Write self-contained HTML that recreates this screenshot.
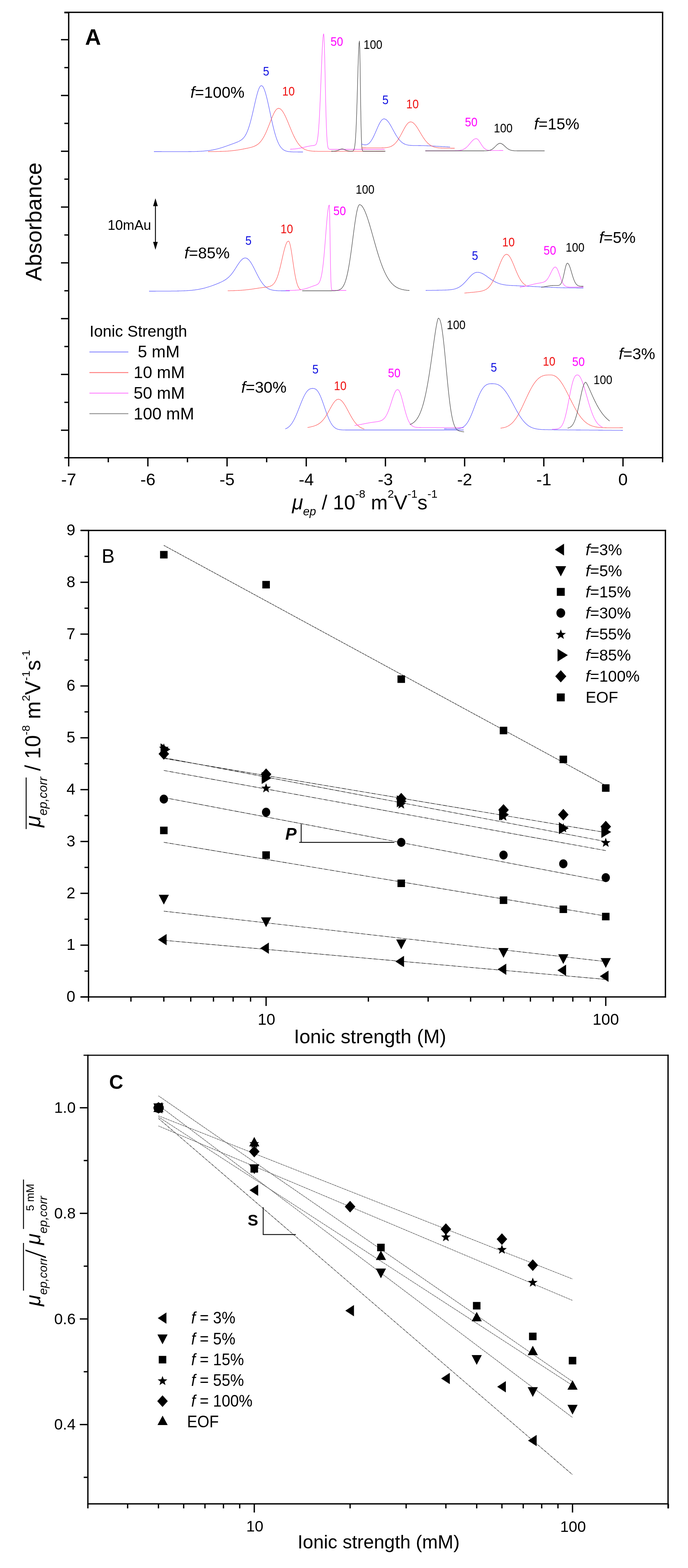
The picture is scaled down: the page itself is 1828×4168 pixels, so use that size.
<!DOCTYPE html>
<html><head><meta charset="utf-8"><title>Figure</title>
<style>
html,body{margin:0;padding:0;background:#fff;}
svg{display:block;}
text{font-family:"Liberation Sans", Arial, sans-serif;}
</style></head>
<body>
<svg width="1828" height="4168" viewBox="0 0 1828 4168" font-family='"Liberation Sans", Arial, sans-serif'>
<rect width="1828" height="4168" fill="#fff"/>
<g id="panelA">
<line x1="182.5" y1="32.7" x2="1762.2" y2="32.7" stroke="#000" stroke-width="3.5" />
<line x1="171" y1="32.7" x2="182.5" y2="32.7" stroke="#000" stroke-width="3.5" />
<line x1="182.5" y1="31" x2="182.5" y2="1218.5" stroke="#000" stroke-width="3.5" />
<line x1="1760.5" y1="31" x2="1760.5" y2="1218.5" stroke="#000" stroke-width="3.5" />
<line x1="171" y1="1216.8" x2="1762.2" y2="1216.8" stroke="#000" stroke-width="3.5" />
<line x1="162" y1="105.5" x2="182.5" y2="105.5" stroke="#000" stroke-width="3.5" />
<line x1="171" y1="179.7" x2="182.5" y2="179.7" stroke="#000" stroke-width="3.5" />
<line x1="162" y1="253.8" x2="182.5" y2="253.8" stroke="#000" stroke-width="3.5" />
<line x1="171" y1="328" x2="182.5" y2="328" stroke="#000" stroke-width="3.5" />
<line x1="162" y1="402.1" x2="182.5" y2="402.1" stroke="#000" stroke-width="3.5" />
<line x1="171" y1="476.2" x2="182.5" y2="476.2" stroke="#000" stroke-width="3.5" />
<line x1="162" y1="550.4" x2="182.5" y2="550.4" stroke="#000" stroke-width="3.5" />
<line x1="171" y1="624.6" x2="182.5" y2="624.6" stroke="#000" stroke-width="3.5" />
<line x1="162" y1="698.7" x2="182.5" y2="698.7" stroke="#000" stroke-width="3.5" />
<line x1="171" y1="772.9" x2="182.5" y2="772.9" stroke="#000" stroke-width="3.5" />
<line x1="162" y1="847" x2="182.5" y2="847" stroke="#000" stroke-width="3.5" />
<line x1="171" y1="921.1" x2="182.5" y2="921.1" stroke="#000" stroke-width="3.5" />
<line x1="162" y1="995.3" x2="182.5" y2="995.3" stroke="#000" stroke-width="3.5" />
<line x1="171" y1="1069.5" x2="182.5" y2="1069.5" stroke="#000" stroke-width="3.5" />
<line x1="162" y1="1143.6" x2="182.5" y2="1143.6" stroke="#000" stroke-width="3.5" />
<line x1="171" y1="33.7" x2="182.5" y2="33.7" stroke="#000" stroke-width="3.5" />
<line x1="182.5" y1="1216.8" x2="182.5" y2="1239.8" stroke="#000" stroke-width="3.5" />
<text x="182.5" y="1290" font-size="45" text-anchor="middle" >-7</text>
<line x1="287.7" y1="1216.8" x2="287.7" y2="1228.8" stroke="#000" stroke-width="3.5" />
<line x1="392.9" y1="1216.8" x2="392.9" y2="1239.8" stroke="#000" stroke-width="3.5" />
<text x="392.9" y="1290" font-size="45" text-anchor="middle" >-6</text>
<line x1="498.1" y1="1216.8" x2="498.1" y2="1228.8" stroke="#000" stroke-width="3.5" />
<line x1="603.3" y1="1216.8" x2="603.3" y2="1239.8" stroke="#000" stroke-width="3.5" />
<text x="603.3" y="1290" font-size="45" text-anchor="middle" >-5</text>
<line x1="708.5" y1="1216.8" x2="708.5" y2="1228.8" stroke="#000" stroke-width="3.5" />
<line x1="813.7" y1="1216.8" x2="813.7" y2="1239.8" stroke="#000" stroke-width="3.5" />
<text x="813.7" y="1290" font-size="45" text-anchor="middle" >-4</text>
<line x1="918.9" y1="1216.8" x2="918.9" y2="1228.8" stroke="#000" stroke-width="3.5" />
<line x1="1024.1" y1="1216.8" x2="1024.1" y2="1239.8" stroke="#000" stroke-width="3.5" />
<text x="1024.1" y="1290" font-size="45" text-anchor="middle" >-3</text>
<line x1="1129.3" y1="1216.8" x2="1129.3" y2="1228.8" stroke="#000" stroke-width="3.5" />
<line x1="1234.5" y1="1216.8" x2="1234.5" y2="1239.8" stroke="#000" stroke-width="3.5" />
<text x="1234.5" y="1290" font-size="45" text-anchor="middle" >-2</text>
<line x1="1339.7" y1="1216.8" x2="1339.7" y2="1228.8" stroke="#000" stroke-width="3.5" />
<line x1="1444.9" y1="1216.8" x2="1444.9" y2="1239.8" stroke="#000" stroke-width="3.5" />
<text x="1444.9" y="1290" font-size="45" text-anchor="middle" >-1</text>
<line x1="1550.1" y1="1216.8" x2="1550.1" y2="1228.8" stroke="#000" stroke-width="3.5" />
<line x1="1655.3" y1="1216.8" x2="1655.3" y2="1239.8" stroke="#000" stroke-width="3.5" />
<text x="1655.3" y="1290" font-size="45" text-anchor="middle" >0</text>
<line x1="1760.5" y1="1216.8" x2="1760.5" y2="1228.8" stroke="#000" stroke-width="3.5" />
</g>
<text transform="translate(110,589.5) rotate(-90)" font-size="59" text-anchor="middle">Absorbance</text>
<text x="226" y="118.5" font-size="58.5" font-weight="bold" >A</text>
<text x="776" y="1353.7" font-size="53.5"><tspan font-style="italic">μ</tspan><tspan font-size="31" font-style="italic" dy="16">ep</tspan><tspan dy="-16"> / 10</tspan><tspan font-size="30" dy="-30.5">-8</tspan><tspan dy="30.5"> m</tspan><tspan font-size="30" dy="-30.5">2</tspan><tspan dy="30.5">V</tspan><tspan font-size="30" dy="-30.5">-1</tspan><tspan dy="30.5">s</tspan><tspan font-size="30" dy="-30.5">-1</tspan></text>
<path d="M409,403 L410,403 L411,403 L412,403 L413,403 L414,403 L415,403 L416,403 L417,403 L418,403 L419,403 L420,403 L421,403 L422,403 L423,403 L424,403 L425,403 L426,403 L427,403 L428,403 L429,403 L430,403.1 L431,403.1 L432,403.1 L433,403.1 L434,403.1 L435,403.1 L436,403.1 L437,403.1 L438,403.1 L439,403.1 L440,403.1 L441,403.1 L442,403.1 L443,403.1 L444,403.1 L445,403.1 L446,403.1 L447,403.1 L448,403.1 L449,403.1 L450,403.1 L451,403.1 L452,403.1 L453,403.1 L454,403.1 L455,403.1 L456,403.1 L457,403.1 L458,403.1 L459,403.1 L460,403.1 L461,403.1 L462,403.1 L463,403.1 L464,403.1 L465,403.1 L466,403.1 L467,403.1 L468,403.1 L469,403.1 L470,403.1 L471,403.1 L472,403.1 L473,403.1 L474,403.1 L475,403.1 L476,403.1 L477,403.1 L478,403.1 L479,403.1 L480,403.1 L481,403.1 L482,403.1 L483,403.1 L484,403.1 L485,403.1 L486,403.1 L487,403.1 L488,403.1 L489,403.1 L490,403.1 L491,403.1 L492,403.1 L493,403.1 L494,403.1 L495,403.1 L496,403.1 L497,403.1 L498,403.1 L499,403.1 L500,403.1 L501,403 L502,403 L503,403 L504,403 L505,403 L506,403 L507,403 L508,403 L509,402.9 L510,402.9 L511,402.9 L512,402.9 L513,402.9 L514,402.8 L515,402.8 L516,402.8 L517,402.8 L518,402.7 L519,402.7 L520,402.7 L521,402.7 L522,402.6 L523,402.6 L524,402.5 L525,402.5 L526,402.5 L527,402.4 L528,402.4 L529,402.3 L530,402.3 L531,402.2 L532,402.2 L533,402.1 L534,402.1 L535,402 L536,401.9 L537,401.9 L538,401.8 L539,401.7 L540,401.6 L541,401.6 L542,401.5 L543,401.4 L544,401.3 L545,401.2 L546,401.1 L547,401 L548,400.9 L549,400.8 L550,400.7 L551,400.6 L552,400.5 L553,400.3 L554,400.2 L555,400.1 L556,399.9 L557,399.8 L558,399.6 L559,399.5 L560,399.3 L561,399.2 L562,399 L563,398.8 L564,398.6 L565,398.5 L566,398.3 L567,398.1 L568,397.9 L569,397.7 L570,397.5 L571,397.3 L572,397 L573,396.8 L574,396.6 L575,396.3 L576,396.1 L577,395.9 L578,395.6 L579,395.4 L580,395.1 L581,394.8 L582,394.6 L583,394.3 L584,394 L585,393.7 L586,393.4 L587,393.1 L588,392.8 L589,392.5 L590,392.2 L591,391.9 L592,391.6 L593,391.2 L594,390.9 L595,390.6 L596,390.2 L597,389.9 L598,389.6 L599,389.2 L600,388.9 L601,388.5 L602,388.2 L603,387.8 L604,387.5 L605,387.1 L606,386.7 L607,386.4 L608,386 L609,385.7 L610,385.3 L611,384.9 L612,384.6 L613,384.2 L614,383.8 L615,383.5 L616,383.1 L617,382.7 L618,382.4 L619,382 L620,381.6 L621,381.3 L622,380.9 L623,380.5 L624,380.1 L625,379.8 L626,379.4 L627,379 L628,378.6 L629,378.2 L630,377.8 L631,377.4 L632,377 L633,376.5 L634,376 L635,375.6 L636,375 L637,374.5 L638,373.9 L639,373.3 L640,372.7 L641,372 L642,371.3 L643,370.5 L644,369.6 L645,368.7 L646,367.7 L647,366.6 L648,365.4 L649,364.1 L650,362.8 L651,361.3 L652,359.7 L653,357.9 L654,356.1 L655,354.1 L656,351.9 L657,349.6 L658,347.2 L659,344.5 L660,341.7 L661,338.8 L662,335.7 L663,332.5 L664,329.1 L665,325.6 L666,321.9 L667,318.1 L668,314.2 L669,310.2 L670,306.1 L671,301.8 L672,297.5 L673,293.2 L674,288.8 L675,284.4 L676,279.9 L677,275.5 L678,271.2 L679,266.9 L680,262.7 L681,258.6 L682,254.7 L683,250.9 L684,247.3 L685,244 L686,240.9 L687,238.1 L688,235.6 L689,233.4 L690,231.5 L691,230 L692,228.8 L693,228 L694,227.6 L695,227.6 L696,228 L697,228.7 L698,229.8 L699,231.2 L700,232.9 L701,234.9 L702,237.2 L703,239.8 L704,242.7 L705,245.8 L706,249.2 L707,252.8 L708,256.6 L709,260.5 L710,264.7 L711,269 L712,273.4 L713,277.9 L714,282.5 L715,287.2 L716,291.9 L717,296.7 L718,301.4 L719,306.2 L720,310.9 L721,315.5 L722,320.1 L723,324.6 L724,329 L725,333.3 L726,337.5 L727,341.6 L728,345.6 L729,349.4 L730,353 L731,356.5 L732,359.9 L733,363.1 L734,366.1 L735,369 L736,371.8 L737,374.3 L738,376.8 L739,379 L740,381.2 L741,383.2 L742,385 L743,386.7 L744,388.3 L745,389.8 L746,391.2 L747,392.4 L748,393.6 L749,394.6 L750,395.6 L751,396.5 L752,397.3 L753,398 L754,398.7 L755,399.3 L756,399.8 L757,400.3 L758,400.7 L759,401.1 L760,401.4 L761,401.7 L762,402 L763,402.3 L764,402.5 L765,402.7 L766,402.8 L767,403 L768,403.1 L769,403.2 L770,403.3 L771,403.4 L772,403.5 L773,403.5 L774,403.6 L775,403.6 L776,403.7 L777,403.7 L778,403.8 L779,403.8 L780,403.8 L781,403.8 L782,403.9 L783,403.9 L784,403.9 L785,403.9 L786,403.9 L787,403.9 L788,403.9 L789,403.9 L790,403.9 L791,403.9 L792,404 L793,404 L794,404 L795,404 L796,404 L797,404 L798,404 L799,404 L800,404 L801,404 L802,404 L803,404 L804,404 L805,404" fill="none" stroke="#5a5aff" stroke-width="1.3" stroke-linejoin="round"/>
<path d="M553,403 L554,403 L555,403 L556,402.9 L557,402.9 L558,402.9 L559,402.9 L560,402.9 L561,402.9 L562,402.9 L563,402.9 L564,402.9 L565,402.9 L566,402.9 L567,402.9 L568,402.9 L569,402.8 L570,402.8 L571,402.8 L572,402.8 L573,402.8 L574,402.8 L575,402.8 L576,402.7 L577,402.7 L578,402.7 L579,402.7 L580,402.7 L581,402.6 L582,402.6 L583,402.6 L584,402.6 L585,402.5 L586,402.5 L587,402.5 L588,402.5 L589,402.4 L590,402.4 L591,402.4 L592,402.3 L593,402.3 L594,402.2 L595,402.2 L596,402.1 L597,402.1 L598,402.1 L599,402 L600,401.9 L601,401.9 L602,401.8 L603,401.8 L604,401.7 L605,401.6 L606,401.6 L607,401.5 L608,401.4 L609,401.3 L610,401.3 L611,401.2 L612,401.1 L613,401 L614,400.9 L615,400.8 L616,400.7 L617,400.6 L618,400.5 L619,400.4 L620,400.3 L621,400.1 L622,400 L623,399.9 L624,399.8 L625,399.6 L626,399.5 L627,399.4 L628,399.2 L629,399.1 L630,398.9 L631,398.8 L632,398.6 L633,398.5 L634,398.3 L635,398.2 L636,398 L637,397.8 L638,397.7 L639,397.5 L640,397.3 L641,397.1 L642,396.9 L643,396.8 L644,396.6 L645,396.4 L646,396.2 L647,396 L648,395.8 L649,395.6 L650,395.4 L651,395.2 L652,395 L653,394.8 L654,394.6 L655,394.4 L656,394.2 L657,394 L658,393.8 L659,393.6 L660,393.3 L661,393.1 L662,392.9 L663,392.6 L664,392.4 L665,392.1 L666,391.9 L667,391.6 L668,391.3 L669,391.1 L670,390.8 L671,390.4 L672,390.1 L673,389.8 L674,389.4 L675,389 L676,388.6 L677,388.2 L678,387.7 L679,387.2 L680,386.7 L681,386.1 L682,385.5 L683,384.9 L684,384.2 L685,383.5 L686,382.7 L687,381.9 L688,381 L689,380 L690,379 L691,378 L692,376.8 L693,375.6 L694,374.4 L695,373.1 L696,371.7 L697,370.2 L698,368.7 L699,367 L700,365.4 L701,363.6 L702,361.8 L703,359.8 L704,357.9 L705,355.8 L706,353.7 L707,351.5 L708,349.2 L709,346.9 L710,344.5 L711,342.1 L712,339.6 L713,337.1 L714,334.6 L715,332 L716,329.4 L717,326.9 L718,324.3 L719,321.7 L720,319.1 L721,316.6 L722,314.1 L723,311.7 L724,309.4 L725,307.1 L726,304.9 L727,302.7 L728,300.7 L729,298.8 L730,297.1 L731,295.4 L732,293.9 L733,292.6 L734,291.4 L735,290.4 L736,289.5 L737,288.9 L738,288.4 L739,288.1 L740,287.9 L741,288 L742,288.2 L743,288.6 L744,289.1 L745,289.7 L746,290.5 L747,291.4 L748,292.4 L749,293.5 L750,294.8 L751,296.2 L752,297.7 L753,299.3 L754,301 L755,302.8 L756,304.7 L757,306.6 L758,308.7 L759,310.8 L760,313 L761,315.2 L762,317.5 L763,319.8 L764,322.2 L765,324.6 L766,327 L767,329.5 L768,331.9 L769,334.4 L770,336.8 L771,339.3 L772,341.7 L773,344.1 L774,346.5 L775,348.8 L776,351.2 L777,353.4 L778,355.7 L779,357.9 L780,360 L781,362.1 L782,364.1 L783,366.1 L784,368 L785,369.9 L786,371.7 L787,373.4 L788,375.1 L789,376.7 L790,378.3 L791,379.8 L792,381.2 L793,382.5 L794,383.8 L795,385.1 L796,386.2 L797,387.3 L798,388.4 L799,389.4 L800,390.3 L801,391.2 L802,392 L803,392.8 L804,393.6 L805,394.3 L806,394.9 L807,395.5 L808,396.1 L809,396.6 L810,397.1 L811,397.5 L812,398 L813,398.3 L814,398.7 L815,399 L816,399.3 L817,399.6 L818,399.9 L819,400.1 L820,400.3 L821,400.5 L822,400.7 L823,400.9 L824,401 L825,401.2 L826,401.3 L827,401.4 L828,401.5 L829,401.6 L830,401.7 L831,401.8 L832,401.8 L833,401.9 L834,402 L835,402 L836,402 L837,402.1 L838,402.1 L839,402.1 L840,402.2 L841,402.2 L842,402.2 L843,402.2 L844,402.3 L845,402.3 L846,402.3 L847,402.3 L848,402.3 L849,402.3 L850,402.3 L851,402.3 L852,402.3 L853,402.3 L854,402.3 L855,402.3 L856,402.3 L857,402.3 L858,402.3 L859,402.3 L860,402.3 L861,402.3 L862,402.3 L863,402.3 L864,402.3 L865,402.3 L866,402.3 L867,402.3 L868,402.3 L869,402.3 L870,402.3 L871,402.3 L872,402.3 L873,402.3 L874,402.3 L875,402.3 L876,402.3 L877,402.3 L878,402.3 L879,402.3 L880,402.3 L881,402.3 L882,402.3 L883,402.3 L884,402.3 L885,402.3 L886,402.3 L887,402.3 L888,402.3 L889,402.3 L890,402.3 L891,402.3 L892,402.3 L893,402.3 L894,402.3 L895,402.3 L896,402.3 L897,402.3 L898,402.3 L899,402.3 L900,402.3 L901,402.3 L902,402.3 L903,402.3 L904,402.3 L905,402.2 L906,402.2 L907,402.2 L908,402.2 L909,402.2 L910,402.2 L911,402.2 L912,402.2 L913,402.2 L914,402.2 L915,402.2 L916,402.2 L917,402.2 L918,402.2 L919,402.2 L920,402.2 L921,402.2 L922,402.2 L923,402.2 L924,402.2 L925,402.2 L926,402.2 L927,402.2 L928,402.2 L929,402.2 L930,402.2 L931,402.2 L932,402.2 L933,402.2 L934,402.2 L935,402.2 L936,402.2 L937,402.2 L938,402.2 L939,402.2 L940,402.2 L941,402.2 L942,402.2 L943,402.2 L944,402.2 L945,402.2 L946,402.2 L947,402.2 L948,402.2 L949,402.2 L950,402.2 L951,402.2 L952,402.1 L953,402.1 L954,402.1 L955,402.1 L956,402.1 L957,402.1 L958,402.1 L959,402.1 L960,402.1 L961,402.1 L962,402.1 L963,402.1 L964,402.1 L965,402.1 L966,402.1 L967,402.1 L968,402.1 L969,402.1 L970,402.1 L971,402.1 L972,402.1 L973,402.1 L974,402.1 L975,402.1 L976,402.1 L977,402.1 L978,402.1 L979,402.1 L980,402.1 L981,402.1 L982,402.1 L983,402.1 L984,402.1 L985,402.1 L986,402.1 L987,402.1 L988,402.1 L989,402.1 L990,402.1 L991,402.1 L992,402.1 L993,402.1 L994,402.1 L995,402.1 L996,402.1 L997,402.1 L998,402.1 L999,402 L1000,402 L1001,402 L1002,402 L1003,402 L1004,402 L1005,402 L1006,402 L1007,402 L1008,402 L1009,402 L1010,402 L1011,402 L1012,402 L1013,402 L1014,402 L1015,402 L1016,402 L1017,402 L1018,402 L1019,402 L1020,402 L1021,402 L1022,402" fill="none" stroke="#ff5a5a" stroke-width="1.3" stroke-linejoin="round"/>
<path d="M771,396.6 L772,396.6 L773,396.5 L774,396.5 L775,396.4 L776,396.4 L777,396.3 L778,396.3 L779,396.2 L780,396.1 L781,396 L782,395.9 L783,395.9 L784,395.8 L785,395.6 L786,395.5 L787,395.4 L788,395.3 L789,395.2 L790,395 L791,394.9 L792,394.7 L793,394.6 L794,394.4 L795,394.2 L796,394 L797,393.9 L798,393.7 L799,393.5 L800,393.2 L801,393 L802,392.8 L803,392.6 L804,392.4 L805,392.1 L806,391.9 L807,391.7 L808,391.4 L809,391.2 L810,390.9 L811,390.7 L812,390.5 L813,390.2 L814,390 L815,389.7 L816,389.5 L817,389.3 L818,389.1 L819,388.9 L820,388.6 L821,388.5 L822,388.3 L823,388.1 L824,387.9 L825,387.8 L826,387.6 L827,387.5 L828,387.4 L829,387.3 L830,387.2 L831,387.1 L832,387 L833,386.9 L834,386.7 L835,386.5 L836,386.2 L837,385.8 L838,385.2 L839,384.4 L840,383 L841,380.9 L842,377.9 L843,373.7 L844,367.8 L845,360.1 L846,350.1 L847,337.5 L848,322.2 L849,304.1 L850,283.3 L851,260.1 L852,235.1 L853,209.1 L854,183 L855,158.1 L856,135.5 L857,116.4 L858,102 L859,93 L860,90 L861,99.5 L862,126.2 L863,165.4 L864,210.9 L865,256.5 L866,297.4 L867,330.6 L868,355.5 L869,372.6 L870,383.5 L871,390 L872,393.6 L873,395.4 L874,396.3 L875,396.7 L876,396.9 L877,397 L878,397 L879,397 L880,397 L881,397 L882,397 L883,397 L884,397 L885,397 L886,397 L887,397 L888,397 L889,397 L890,397 L891,397 L892,397 L893,397 L894,397 L895,397 L896,397 L897,397 L898,397 L899,397 L900,397 L901,397 L902,397 L903,397 L904,397 L905,397 L906,397 L907,397 L908,397 L909,397 L910,397 L911,397 L912,397 L913,397 L914,397 L915,397 L916,397 L917,397 L918,397 L919,397 L920,397 L921,397 L922,397 L923,397 L924,397 L925,397 L926,397 L927,397 L928,397 L929,397 L930,397 L931,397 L932,397 L933,397 L934,397 L935,397 L936,397 L937,397 L938,397 L939,397 L940,397 L941,397 L942,397 L943,397 L944,397 L945,397 L946,397 L947,397 L948,397 L949,397 L950,397 L951,397 L952,397 L953,397 L954,397 L955,397 L956,397 L957,397 L958,397 L959,397 L960,397 L961,397 L962,397 L963,397 L964,397 L965,397 L966,397 L967,397 L968,397 L969,397 L970,397 L971,397 L972,397 L973,397 L974,397 L975,397 L976,397 L977,397 L978,397 L979,397 L980,397 L981,397 L982,397 L983,397 L984,397 L985,397 L986,397 L987,397 L988,397 L989,397 L990,397 L991,397 L992,397 L993,397 L994,397 L995,397 L996,397 L997,397 L998,397 L999,397 L1000,397 L1001,397 L1002,397 L1003,397 L1004,397 L1005,397 L1006,397 L1007,397 L1008,397 L1009,397 L1010,397 L1011,397 L1012,397 L1013,397 L1014,397 L1015,397 L1016,397 L1017,397 L1018,397 L1019,397 L1020,397 L1021,397 L1022,397" fill="none" stroke="#ff50ff" stroke-width="1.3" stroke-linejoin="round"/>
<path d="M880,402 L881,402 L882,402 L883,402 L884,402 L885,401.9 L886,401.9 L887,401.9 L888,401.8 L889,401.7 L890,401.6 L891,401.5 L892,401.4 L893,401.2 L894,401 L895,400.7 L896,400.4 L897,400.1 L898,399.7 L899,399.3 L900,398.8 L901,398.4 L902,397.9 L903,397.5 L904,397.1 L905,396.7 L906,396.4 L907,396.2 L908,396 L909,396 L910,396 L911,396.2 L912,396.4 L913,396.7 L914,397.1 L915,397.5 L916,397.9 L917,398.4 L918,398.8 L919,399.3 L920,399.7 L921,400.1 L922,400.4 L923,400.7 L924,401 L925,401.2 L926,401.4 L927,401.5 L928,401.6 L929,401.7 L930,401.8 L931,401.9 L932,401.9 L933,401.9 L934,401.9 L935,401.9 L936,401.8 L937,401.5 L938,401.1 L939,400.2 L940,398.7 L941,396.2 L942,392 L943,385.6 L944,375.9 L945,362.3 L946,344 L947,320.5 L948,292 L949,259.4 L950,224.3 L951,189.2 L952,157.3 L953,131.5 L954,114.8 L955,109 L956,131.5 L957,189.2 L958,259.4 L959,320.5 L960,362.3 L961,385.6 L962,396.2 L963,400.2 L964,401.6 L965,401.9 L966,402 L967,402 L968,402 L969,402 L970,402 L971,402 L972,402 L973,402 L974,402 L975,402 L976,402 L977,402 L978,402 L979,402 L980,402 L981,402 L982,402 L983,402 L984,402 L985,402 L986,402 L987,402 L988,402 L989,402 L990,402 L991,402 L992,402 L993,402 L994,402 L995,402 L996,402 L997,402 L998,402 L999,402 L1000,402 L1001,402 L1002,402 L1003,402 L1004,402 L1005,402 L1006,402 L1007,402 L1008,402 L1009,402 L1010,402 L1011,402 L1012,402 L1013,402 L1014,402 L1015,402 L1016,402 L1017,402 L1018,402 L1019,402 L1020,402 L1021,402 L1022,402 L1023,402 L1024,402" fill="none" stroke="#444" stroke-width="1.3" stroke-linejoin="round"/>
<path d="M960,382.9 L961,383.1 L962,383.4 L963,383.6 L964,383.9 L965,384.1 L966,384.4 L967,384.6 L968,384.8 L969,384.9 L970,385 L971,385 L972,384.9 L973,384.8 L974,384.6 L975,384.3 L976,383.9 L977,383.4 L978,382.9 L979,382.2 L980,381.4 L981,380.5 L982,379.5 L983,378.4 L984,377.2 L985,375.9 L986,374.5 L987,373 L988,371.4 L989,369.7 L990,367.9 L991,366 L992,364.1 L993,362.1 L994,360 L995,357.8 L996,355.6 L997,353.4 L998,351.1 L999,348.8 L1000,346.5 L1001,344.2 L1002,341.8 L1003,339.6 L1004,337.3 L1005,335.1 L1006,333 L1007,330.9 L1008,328.9 L1009,327 L1010,325.3 L1011,323.6 L1012,322.1 L1013,320.8 L1014,319.6 L1015,318.5 L1016,317.7 L1017,317 L1018,316.5 L1019,316.1 L1020,316 L1021,316 L1022,316.2 L1023,316.5 L1024,316.9 L1025,317.4 L1026,318.1 L1027,318.8 L1028,319.7 L1029,320.7 L1030,321.8 L1031,323 L1032,324.3 L1033,325.7 L1034,327.2 L1035,328.7 L1036,330.3 L1037,331.9 L1038,333.6 L1039,335.4 L1040,337.2 L1041,339 L1042,340.8 L1043,342.7 L1044,344.5 L1045,346.4 L1046,348.2 L1047,350 L1048,351.8 L1049,353.6 L1050,355.4 L1051,357.1 L1052,358.8 L1053,360.4 L1054,362 L1055,363.5 L1056,365 L1057,366.5 L1058,367.9 L1059,369.2 L1060,370.5 L1061,371.7 L1062,372.8 L1063,373.9 L1064,374.9 L1065,375.9 L1066,376.8 L1067,377.7 L1068,378.5 L1069,379.3 L1070,380 L1071,380.6 L1072,381.3 L1073,381.8 L1074,382.3 L1075,382.8 L1076,383.3 L1077,383.7 L1078,384 L1079,384.4 L1080,384.7 L1081,384.9 L1082,385.2 L1083,385.4 L1084,385.6 L1085,385.8 L1086,385.9 L1087,386.1 L1088,386.2 L1089,386.3 L1090,386.4 L1091,386.5 L1092,386.5 L1093,386.6 L1094,386.6 L1095,386.7 L1096,386.7 L1097,386.8 L1098,386.8 L1099,386.8 L1100,386.8 L1101,386.8 L1102,386.9 L1103,386.9 L1104,386.9 L1105,386.9 L1106,386.9 L1107,386.9 L1108,386.9 L1109,386.9 L1110,386.9 L1111,386.9 L1112,387 L1113,387 L1114,387 L1115,387 L1116,387 L1117,387 L1118,387 L1119,387.1 L1120,387.1 L1121,387.1 L1122,387.1 L1123,387.1 L1124,387.2 L1125,387.2 L1126,387.2 L1127,387.2 L1128,387.3 L1129,387.3 L1130,387.3 L1131,387.4 L1132,387.4 L1133,387.4 L1134,387.5 L1135,387.5 L1136,387.5 L1137,387.6 L1138,387.6 L1139,387.7 L1140,387.7 L1141,387.7 L1142,387.8 L1143,387.8 L1144,387.9 L1145,387.9 L1146,388 L1147,388 L1148,388.1 L1149,388.1 L1150,388.2 L1151,388.2 L1152,388.3 L1153,388.4 L1154,388.4 L1155,388.5 L1156,388.5 L1157,388.6 L1158,388.6 L1159,388.7 L1160,388.8 L1161,388.8 L1162,388.9 L1163,388.9 L1164,389 L1165,389.1 L1166,389.1 L1167,389.2 L1168,389.2 L1169,389.3 L1170,389.4 L1171,389.4 L1172,389.5 L1173,389.5 L1174,389.6 L1175,389.7 L1176,389.7 L1177,389.8 L1178,389.8 L1179,389.9 L1180,390 L1181,390 L1182,390.1 L1183,390.1 L1184,390.2 L1185,390.3 L1186,390.3 L1187,390.4 L1188,390.4 L1189,390.5 L1190,390.5 L1191,390.6 L1192,390.6 L1193,390.7 L1194,390.7 L1195,390.8 L1196,390.9" fill="none" stroke="#5a5aff" stroke-width="1.3" stroke-linejoin="round"/>
<path d="M960,393 L961,393 L962,393 L963,393 L964,393 L965,393 L966,393 L967,393 L968,393 L969,393 L970,393 L971,393 L972,393 L973,393.1 L974,393.1 L975,393.1 L976,393.1 L977,393.1 L978,393.1 L979,393.1 L980,393.1 L981,393.1 L982,393.1 L983,393.1 L984,393.1 L985,393.1 L986,393.1 L987,393.1 L988,393.1 L989,393.1 L990,393.1 L991,393.1 L992,393.1 L993,393.1 L994,393.1 L995,393.1 L996,393.1 L997,393.1 L998,393.1 L999,393.1 L1000,393.1 L1001,393.1 L1002,393.1 L1003,393.2 L1004,393.1 L1005,393.1 L1006,393.1 L1007,393.1 L1008,393.1 L1009,393.1 L1010,393.1 L1011,393.1 L1012,393.1 L1013,393.1 L1014,393.1 L1015,393 L1016,393 L1017,393 L1018,393 L1019,392.9 L1020,392.9 L1021,392.8 L1022,392.7 L1023,392.7 L1024,392.6 L1025,392.5 L1026,392.4 L1027,392.3 L1028,392.1 L1029,392 L1030,391.8 L1031,391.6 L1032,391.4 L1033,391.1 L1034,390.9 L1035,390.6 L1036,390.3 L1037,389.9 L1038,389.5 L1039,389.1 L1040,388.6 L1041,388.1 L1042,387.5 L1043,386.9 L1044,386.2 L1045,385.5 L1046,384.8 L1047,383.9 L1048,383.1 L1049,382.1 L1050,381.1 L1051,380.1 L1052,378.9 L1053,377.7 L1054,376.5 L1055,375.2 L1056,373.8 L1057,372.3 L1058,370.8 L1059,369.3 L1060,367.6 L1061,366 L1062,364.2 L1063,362.5 L1064,360.7 L1065,358.8 L1066,357 L1067,355.1 L1068,353.2 L1069,351.3 L1070,349.4 L1071,347.5 L1072,345.6 L1073,343.7 L1074,341.9 L1075,340.1 L1076,338.4 L1077,336.7 L1078,335.1 L1079,333.6 L1080,332.1 L1081,330.8 L1082,329.5 L1083,328.4 L1084,327.4 L1085,326.5 L1086,325.8 L1087,325.1 L1088,324.6 L1089,324.3 L1090,324.1 L1091,324 L1092,324.1 L1093,324.2 L1094,324.5 L1095,324.9 L1096,325.4 L1097,326 L1098,326.7 L1099,327.5 L1100,328.4 L1101,329.4 L1102,330.5 L1103,331.6 L1104,332.8 L1105,334.1 L1106,335.5 L1107,336.9 L1108,338.4 L1109,339.9 L1110,341.5 L1111,343.1 L1112,344.8 L1113,346.4 L1114,348.1 L1115,349.8 L1116,351.5 L1117,353.1 L1118,354.8 L1119,356.5 L1120,358.2 L1121,359.8 L1122,361.4 L1123,363 L1124,364.6 L1125,366.1 L1126,367.6 L1127,369 L1128,370.4 L1129,371.8 L1130,373.1 L1131,374.4 L1132,375.6 L1133,376.7 L1134,377.9 L1135,378.9 L1136,380 L1137,380.9 L1138,381.8 L1139,382.7 L1140,383.5 L1141,384.3 L1142,385.1 L1143,385.7 L1144,386.4 L1145,387 L1146,387.6 L1147,388.1 L1148,388.6 L1149,389 L1150,389.5 L1151,389.9 L1152,390.2 L1153,390.6 L1154,390.9 L1155,391.2 L1156,391.4 L1157,391.7 L1158,391.9 L1159,392.1 L1160,392.3 L1161,392.4 L1162,392.6 L1163,392.7 L1164,392.8 L1165,393 L1166,393.1 L1167,393.2 L1168,393.2 L1169,393.3 L1170,393.4 L1171,393.4 L1172,393.5 L1173,393.5 L1174,393.6 L1175,393.6 L1176,393.7 L1177,393.7 L1178,393.7 L1179,393.7 L1180,393.8 L1181,393.8 L1182,393.8 L1183,393.8 L1184,393.8 L1185,393.8 L1186,393.9 L1187,393.9 L1188,393.9 L1189,393.9 L1190,393.9 L1191,393.9 L1192,393.9 L1193,393.9 L1194,393.9 L1195,393.9 L1196,393.9 L1197,393.9 L1198,394 L1199,394 L1200,394 L1201,394 L1202,394 L1203,394 L1204,394 L1205,394 L1206,394 L1207,394 L1208,394" fill="none" stroke="#ff5a5a" stroke-width="1.3" stroke-linejoin="round"/>
<path d="M1130,401 L1131,401 L1132,401 L1133,401 L1134,401 L1135,401 L1136,401 L1137,401 L1138,401 L1139,401 L1140,401 L1141,400.9 L1142,400.9 L1143,400.9 L1144,400.9 L1145,400.9 L1146,400.9 L1147,400.9 L1148,400.9 L1149,400.9 L1150,400.9 L1151,400.9 L1152,400.9 L1153,400.9 L1154,400.9 L1155,400.9 L1156,400.9 L1157,400.9 L1158,400.9 L1159,400.9 L1160,400.9 L1161,400.9 L1162,400.8 L1163,400.8 L1164,400.8 L1165,400.8 L1166,400.8 L1167,400.8 L1168,400.8 L1169,400.8 L1170,400.8 L1171,400.8 L1172,400.8 L1173,400.8 L1174,400.8 L1175,400.8 L1176,400.8 L1177,400.8 L1178,400.8 L1179,400.8 L1180,400.8 L1181,400.8 L1182,400.7 L1183,400.7 L1184,400.7 L1185,400.7 L1186,400.7 L1187,400.7 L1188,400.7 L1189,400.7 L1190,400.7 L1191,400.7 L1192,400.7 L1193,400.7 L1194,400.7 L1195,400.7 L1196,400.7 L1197,400.7 L1198,400.7 L1199,400.7 L1200,400.7 L1201,400.6 L1202,400.6 L1203,400.6 L1204,400.6 L1205,400.6 L1206,400.6 L1207,400.6 L1208,400.6 L1209,400.5 L1210,400.5 L1211,400.5 L1212,400.5 L1213,400.4 L1214,400.4 L1215,400.3 L1216,400.3 L1217,400.2 L1218,400.1 L1219,400.1 L1220,400 L1221,399.8 L1222,399.7 L1223,399.5 L1224,399.4 L1225,399.1 L1226,398.9 L1227,398.6 L1228,398.3 L1229,398 L1230,397.6 L1231,397.2 L1232,396.7 L1233,396.2 L1234,395.6 L1235,395 L1236,394.3 L1237,393.6 L1238,392.8 L1239,392 L1240,391.1 L1241,390.1 L1242,389.1 L1243,388.1 L1244,387 L1245,385.9 L1246,384.7 L1247,383.5 L1248,382.3 L1249,381.1 L1250,379.9 L1251,378.7 L1252,377.5 L1253,376.4 L1254,375.3 L1255,374.2 L1256,373.2 L1257,372.3 L1258,371.4 L1259,370.7 L1260,370 L1261,369.5 L1262,369.1 L1263,368.8 L1264,368.6 L1265,368.5 L1266,368.6 L1267,368.9 L1268,369.5 L1269,370.2 L1270,371.1 L1271,372.2 L1272,373.4 L1273,374.8 L1274,376.3 L1275,377.8 L1276,379.4 L1277,381 L1278,382.6 L1279,384.2 L1280,385.7 L1281,387.2 L1282,388.6 L1283,389.9 L1284,391.2 L1285,392.3 L1286,393.4 L1287,394.3 L1288,395.2 L1289,395.9 L1290,396.6 L1291,397.2 L1292,397.7 L1293,398.1 L1294,398.5 L1295,398.8 L1296,399.1 L1297,399.3 L1298,399.5 L1299,399.6 L1300,399.7 L1301,399.8 L1302,399.9 L1303,400 L1304,400 L1305,400 L1306,400.1 L1307,400.1 L1308,400.1 L1309,400.1 L1310,400.1 L1311,400.1 L1312,400.1 L1313,400.1 L1314,400.1 L1315,400.1 L1316,400.1 L1317,400.1 L1318,400.1 L1319,400.1 L1320,400.1 L1321,400.1 L1322,400.1 L1323,400.1 L1324,400.1 L1325,400.1 L1326,400.1 L1327,400 L1328,400 L1329,400 L1330,400 L1331,400 L1332,400 L1333,400 L1334,400 L1335,400 L1336,400 L1337,400" fill="none" stroke="#ff50ff" stroke-width="1.3" stroke-linejoin="round"/>
<path d="M1130,401 L1131,401 L1132,401 L1133,401 L1134,401 L1135,401 L1136,401 L1137,401 L1138,401 L1139,401 L1140,401 L1141,401 L1142,401 L1143,401 L1144,401 L1145,401 L1146,401 L1147,401 L1148,401 L1149,401 L1150,401 L1151,401 L1152,401 L1153,401 L1154,401 L1155,401 L1156,401 L1157,401 L1158,401 L1159,401 L1160,401 L1161,401 L1162,401 L1163,401 L1164,401 L1165,401 L1166,401 L1167,401 L1168,401 L1169,401 L1170,401 L1171,401 L1172,401 L1173,401 L1174,401 L1175,401 L1176,401 L1177,401 L1178,401 L1179,401 L1180,401 L1181,401 L1182,401 L1183,401 L1184,401 L1185,401 L1186,401 L1187,401 L1188,401 L1189,401 L1190,401 L1191,401 L1192,401 L1193,401 L1194,401 L1195,401 L1196,401 L1197,401 L1198,401 L1199,401 L1200,401 L1201,401 L1202,401 L1203,401 L1204,401 L1205,401 L1206,401 L1207,401 L1208,401 L1209,401 L1210,401 L1211,401 L1212,401 L1213,401 L1214,401 L1215,401 L1216,401 L1217,401 L1218,401 L1219,401 L1220,401 L1221,401 L1222,401 L1223,401 L1224,401 L1225,401 L1226,401 L1227,401 L1228,401 L1229,401 L1230,401 L1231,401 L1232,401 L1233,401 L1234,401 L1235,401 L1236,401 L1237,401 L1238,401 L1239,401 L1240,401 L1241,401 L1242,401 L1243,401 L1244,401 L1245,401 L1246,401 L1247,401 L1248,401 L1249,401 L1250,401 L1251,401 L1252,401 L1253,401 L1254,401 L1255,401 L1256,401 L1257,401 L1258,401 L1259,401 L1260,401 L1261,401 L1262,401 L1263,401 L1264,401 L1265,401 L1266,401 L1267,401 L1268,401 L1269,401 L1270,401 L1271,401 L1272,401 L1273,401 L1274,401 L1275,401 L1276,401 L1277,401 L1278,401 L1279,401 L1280,401 L1281,401 L1282,401 L1283,401 L1284,401 L1285,401 L1286,401 L1287,400.9 L1288,400.9 L1289,400.9 L1290,400.9 L1291,400.8 L1292,400.8 L1293,400.7 L1294,400.7 L1295,400.6 L1296,400.5 L1297,400.4 L1298,400.2 L1299,400 L1300,399.8 L1301,399.6 L1302,399.3 L1303,398.9 L1304,398.5 L1305,398.1 L1306,397.6 L1307,397 L1308,396.4 L1309,395.7 L1310,394.9 L1311,394.1 L1312,393.2 L1313,392.3 L1314,391.4 L1315,390.4 L1316,389.4 L1317,388.4 L1318,387.4 L1319,386.4 L1320,385.4 L1321,384.5 L1322,383.7 L1323,383 L1324,382.4 L1325,381.8 L1326,381.4 L1327,381.2 L1328,381 L1329,381 L1330,381.1 L1331,381.4 L1332,381.7 L1333,382.2 L1334,382.7 L1335,383.4 L1336,384.1 L1337,384.8 L1338,385.7 L1339,386.6 L1340,387.5 L1341,388.4 L1342,389.3 L1343,390.3 L1344,391.2 L1345,392.1 L1346,392.9 L1347,393.7 L1348,394.5 L1349,395.2 L1350,395.9 L1351,396.5 L1352,397.1 L1353,397.6 L1354,398.1 L1355,398.5 L1356,398.9 L1357,399.2 L1358,399.5 L1359,399.7 L1360,399.9 L1361,400.1 L1362,400.3 L1363,400.4 L1364,400.5 L1365,400.6 L1366,400.7 L1367,400.8 L1368,400.8 L1369,400.8 L1370,400.9 L1371,400.9 L1372,400.9 L1373,400.9 L1374,401 L1375,401 L1376,401 L1377,401 L1378,401 L1379,401 L1380,401 L1381,401 L1382,401 L1383,401 L1384,401 L1385,401 L1386,401 L1387,401 L1388,401 L1389,401 L1390,401 L1391,401 L1392,401 L1393,401 L1394,401 L1395,401 L1396,401 L1397,401 L1398,401 L1399,401 L1400,401 L1401,401 L1402,401 L1403,401 L1404,401 L1405,401 L1406,401 L1407,401 L1408,401 L1409,401 L1410,401 L1411,401 L1412,401 L1413,401 L1414,401 L1415,401 L1416,401 L1417,401 L1418,401 L1419,401 L1420,401 L1421,401 L1422,401 L1423,401 L1424,401 L1425,401 L1426,401 L1427,401 L1428,401 L1429,401 L1430,401 L1431,401 L1432,401 L1433,401 L1434,401 L1435,401 L1436,401 L1437,401 L1438,401 L1439,401 L1440,401 L1441,401 L1442,401 L1443,401 L1444,401 L1445,401 L1446,401 L1447,401" fill="none" stroke="#444" stroke-width="1.3" stroke-linejoin="round"/>
<path d="M396,774 L397,774 L398,774 L399,774 L400,774 L401,774 L402,774 L403,774 L404,774 L405,774 L406,774 L407,774 L408,774 L409,774 L410,774 L411,774 L412,774 L413,774 L414,773.9 L415,773.9 L416,773.9 L417,773.9 L418,773.9 L419,773.9 L420,773.9 L421,773.9 L422,773.9 L423,773.9 L424,773.9 L425,773.9 L426,773.9 L427,773.9 L428,773.9 L429,773.9 L430,773.9 L431,773.9 L432,773.9 L433,773.9 L434,773.9 L435,773.9 L436,773.9 L437,773.9 L438,773.9 L439,773.9 L440,773.9 L441,773.8 L442,773.8 L443,773.8 L444,773.8 L445,773.8 L446,773.8 L447,773.8 L448,773.8 L449,773.8 L450,773.8 L451,773.8 L452,773.8 L453,773.8 L454,773.8 L455,773.7 L456,773.7 L457,773.7 L458,773.7 L459,773.7 L460,773.7 L461,773.7 L462,773.7 L463,773.7 L464,773.7 L465,773.6 L466,773.6 L467,773.6 L468,773.6 L469,773.6 L470,773.6 L471,773.5 L472,773.5 L473,773.5 L474,773.5 L475,773.5 L476,773.4 L477,773.4 L478,773.4 L479,773.4 L480,773.3 L481,773.3 L482,773.3 L483,773.2 L484,773.2 L485,773.2 L486,773.1 L487,773.1 L488,773.1 L489,773 L490,773 L491,772.9 L492,772.9 L493,772.8 L494,772.8 L495,772.7 L496,772.7 L497,772.6 L498,772.5 L499,772.5 L500,772.4 L501,772.3 L502,772.3 L503,772.2 L504,772.1 L505,772 L506,771.9 L507,771.9 L508,771.8 L509,771.7 L510,771.6 L511,771.5 L512,771.4 L513,771.2 L514,771.1 L515,771 L516,770.9 L517,770.8 L518,770.6 L519,770.5 L520,770.4 L521,770.2 L522,770.1 L523,769.9 L524,769.8 L525,769.6 L526,769.4 L527,769.3 L528,769.1 L529,768.9 L530,768.7 L531,768.5 L532,768.3 L533,768.1 L534,767.9 L535,767.7 L536,767.5 L537,767.2 L538,767 L539,766.8 L540,766.5 L541,766.3 L542,766 L543,765.8 L544,765.5 L545,765.3 L546,765 L547,764.7 L548,764.4 L549,764.1 L550,763.8 L551,763.5 L552,763.2 L553,762.9 L554,762.6 L555,762.3 L556,762 L557,761.7 L558,761.3 L559,761 L560,760.7 L561,760.3 L562,760 L563,759.6 L564,759.3 L565,758.9 L566,758.5 L567,758.2 L568,757.8 L569,757.4 L570,757.1 L571,756.7 L572,756.3 L573,755.9 L574,755.5 L575,755.1 L576,754.7 L577,754.3 L578,753.9 L579,753.5 L580,753.1 L581,752.7 L582,752.2 L583,751.8 L584,751.4 L585,750.9 L586,750.5 L587,750 L588,749.5 L589,749 L590,748.6 L591,748 L592,747.5 L593,747 L594,746.4 L595,745.9 L596,745.3 L597,744.7 L598,744.1 L599,743.4 L600,742.7 L601,742.1 L602,741.3 L603,740.6 L604,739.8 L605,739 L606,738.1 L607,737.2 L608,736.3 L609,735.4 L610,734.4 L611,733.3 L612,732.3 L613,731.1 L614,730 L615,728.8 L616,727.5 L617,726.2 L618,724.9 L619,723.5 L620,722.1 L621,720.7 L622,719.2 L623,717.7 L624,716.1 L625,714.6 L626,713 L627,711.4 L628,709.8 L629,708.2 L630,706.7 L631,705.1 L632,703.6 L633,702.1 L634,700.6 L635,699.2 L636,697.8 L637,696.4 L638,695.2 L639,693.9 L640,692.8 L641,691.7 L642,690.6 L643,689.7 L644,688.9 L645,688.1 L646,687.4 L647,686.9 L648,686.4 L649,686.1 L650,685.8 L651,685.7 L652,685.7 L653,685.8 L654,686 L655,686.3 L656,686.8 L657,687.4 L658,688.1 L659,688.9 L660,689.8 L661,690.8 L662,691.9 L663,693.1 L664,694.3 L665,695.7 L666,697.2 L667,698.7 L668,700.3 L669,702 L670,703.7 L671,705.5 L672,707.3 L673,709.2 L674,711.1 L675,713 L676,715 L677,717 L678,719 L679,721 L680,723 L681,725 L682,727 L683,729 L684,730.9 L685,732.8 L686,734.7 L687,736.6 L688,738.4 L689,740.2 L690,742 L691,743.6 L692,745.3 L693,746.9 L694,748.4 L695,749.9 L696,751.3 L697,752.7 L698,754 L699,755.3 L700,756.5 L701,757.6 L702,758.7 L703,759.8 L704,760.7 L705,761.7 L706,762.5 L707,763.3 L708,764.1 L709,764.8 L710,765.5 L711,766.1 L712,766.7 L713,767.3 L714,767.8 L715,768.3 L716,768.7 L717,769.1 L718,769.5 L719,769.8 L720,770.1 L721,770.4 L722,770.7 L723,770.9 L724,771.2 L725,771.4 L726,771.5 L727,771.7 L728,771.8 L729,772 L730,772.1 L731,772.2 L732,772.3 L733,772.4 L734,772.5 L735,772.5 L736,772.6 L737,772.7 L738,772.7 L739,772.8 L740,772.8 L741,772.8 L742,772.9 L743,772.9 L744,772.9 L745,772.9 L746,772.9 L747,773 L748,773 L749,773 L750,773 L751,773 L752,773 L753,773 L754,773 L755,773 L756,773 L757,773 L758,773 L759,773 L760,773 L761,773 L762,773 L763,773 L764,773 L765,773 L766,773 L767,773 L768,773 L769,773 L770,773" fill="none" stroke="#5a5aff" stroke-width="1.3" stroke-linejoin="round"/>
<path d="M605,772.8 L606,772.8 L607,772.8 L608,772.8 L609,772.8 L610,772.8 L611,772.8 L612,772.7 L613,772.7 L614,772.7 L615,772.7 L616,772.7 L617,772.6 L618,772.6 L619,772.6 L620,772.6 L621,772.5 L622,772.5 L623,772.5 L624,772.4 L625,772.4 L626,772.4 L627,772.3 L628,772.3 L629,772.2 L630,772.2 L631,772.2 L632,772.1 L633,772.1 L634,772 L635,772 L636,771.9 L637,771.8 L638,771.8 L639,771.7 L640,771.6 L641,771.6 L642,771.5 L643,771.4 L644,771.4 L645,771.3 L646,771.2 L647,771.1 L648,771 L649,770.9 L650,770.8 L651,770.7 L652,770.6 L653,770.5 L654,770.4 L655,770.3 L656,770.2 L657,770.1 L658,770 L659,769.9 L660,769.8 L661,769.6 L662,769.5 L663,769.4 L664,769.2 L665,769.1 L666,769 L667,768.8 L668,768.7 L669,768.6 L670,768.4 L671,768.3 L672,768.1 L673,768 L674,767.8 L675,767.7 L676,767.5 L677,767.4 L678,767.2 L679,767.1 L680,766.9 L681,766.8 L682,766.6 L683,766.5 L684,766.3 L685,766.2 L686,766 L687,765.9 L688,765.7 L689,765.6 L690,765.4 L691,765.3 L692,765.2 L693,765 L694,764.9 L695,764.8 L696,764.6 L697,764.5 L698,764.4 L699,764.2 L700,764.1 L701,764 L702,763.9 L703,763.7 L704,763.6 L705,763.5 L706,763.4 L707,763.2 L708,763.1 L709,762.9 L710,762.8 L711,762.6 L712,762.4 L713,762.2 L714,762 L715,761.8 L716,761.5 L717,761.2 L718,760.8 L719,760.4 L720,759.9 L721,759.4 L722,758.8 L723,758.2 L724,757.4 L725,756.6 L726,755.6 L727,754.6 L728,753.4 L729,752.1 L730,750.7 L731,749.1 L732,747.3 L733,745.4 L734,743.3 L735,741 L736,738.5 L737,735.9 L738,733 L739,730 L740,726.7 L741,723.3 L742,719.7 L743,715.9 L744,712 L745,708 L746,703.8 L747,699.5 L748,695.2 L749,690.8 L750,686.4 L751,682 L752,677.7 L753,673.4 L754,669.3 L755,665.3 L756,661.5 L757,658 L758,654.7 L759,651.7 L760,649 L761,646.7 L762,644.7 L763,643.1 L764,642 L765,641.3 L766,641 L767,641.2 L768,642.3 L769,644.4 L770,647.4 L771,651.2 L772,655.7 L773,661 L774,666.7 L775,673 L776,679.5 L777,686.3 L778,693.2 L779,700.1 L780,706.9 L781,713.5 L782,719.8 L783,725.8 L784,731.4 L785,736.7 L786,741.5 L787,745.8 L788,749.8 L789,753.3 L790,756.4 L791,759.1 L792,761.4 L793,763.4 L794,765.1 L795,766.6 L796,767.8 L797,768.8 L798,769.6 L799,770.3 L800,770.9" fill="none" stroke="#ff5a5a" stroke-width="1.3" stroke-linejoin="round"/>
<path d="M759,772 L760,772 L761,772 L762,772 L763,772 L764,772 L765,772 L766,771.9 L767,771.9 L768,771.9 L769,771.9 L770,771.9 L771,771.9 L772,771.9 L773,771.9 L774,771.9 L775,771.8 L776,771.8 L777,771.8 L778,771.8 L779,771.7 L780,771.7 L781,771.7 L782,771.6 L783,771.6 L784,771.5 L785,771.5 L786,771.4 L787,771.4 L788,771.3 L789,771.2 L790,771.2 L791,771.1 L792,771 L793,770.9 L794,770.8 L795,770.7 L796,770.5 L797,770.4 L798,770.3 L799,770.1 L800,770 L801,769.8 L802,769.6 L803,769.4 L804,769.2 L805,769 L806,768.8 L807,768.6 L808,768.3 L809,768.1 L810,767.8 L811,767.6 L812,767.3 L813,767 L814,766.7 L815,766.4 L816,766.1 L817,765.7 L818,765.4 L819,765 L820,764.7 L821,764.3 L822,764 L823,763.6 L824,763.3 L825,762.9 L826,762.5 L827,762.2 L828,761.8 L829,761.5 L830,761.1 L831,760.7 L832,760.4 L833,760.1 L834,759.7 L835,759.4 L836,759.1 L837,758.7 L838,758.4 L839,758 L840,757.7 L841,757.2 L842,756.8 L843,756.2 L844,755.6 L845,754.8 L846,753.8 L847,752.6 L848,751.1 L849,749.3 L850,747.1 L851,744.4 L852,741.2 L853,737.5 L854,733.2 L855,728.1 L856,722.2 L857,715.5 L858,707.7 L859,699.1 L860,689.4 L861,678.9 L862,667.5 L863,655.4 L864,642.8 L865,629.8 L866,616.9 L867,604.1 L868,591.9 L869,580.5 L870,570.2 L871,561.4 L872,554.3 L873,549.1 L874,545.9 L875,545 L876,571.7 L877,634.3 L878,698.2 L879,741.1 L880,761.9 L881,769.4 L882,771.4 L883,771.9 L884,771.9 L885,772 L886,772 L887,772 L888,772 L889,772 L890,772 L891,772 L892,772 L893,772 L894,772 L895,772 L896,772 L897,772 L898,772 L899,772 L900,772 L901,772 L902,772 L903,772 L904,772 L905,772 L906,772 L907,772 L908,772 L909,772 L910,772 L911,772 L912,772 L913,772 L914,772 L915,772 L916,772 L917,772 L918,772 L919,772 L920,772" fill="none" stroke="#ff50ff" stroke-width="1.3" stroke-linejoin="round"/>
<path d="M803,773 L804,773 L805,773 L806,773 L807,773 L808,773 L809,773 L810,773 L811,773 L812,773 L813,773 L814,773 L815,773 L816,773 L817,773 L818,773 L819,773 L820,773 L821,773 L822,773 L823,773 L824,773 L825,773 L826,773 L827,773 L828,773 L829,773 L830,773 L831,773 L832,773 L833,773 L834,773 L835,773 L836,773 L837,773 L838,773 L839,773 L840,773 L841,773 L842,773 L843,773 L844,773 L845,773 L846,773 L847,773 L848,773 L849,773 L850,773 L851,773 L852,773 L853,773 L854,773 L855,773 L856,773 L857,773 L858,773 L859,773 L860,773 L861,773 L862,773 L863,773 L864,773 L865,773 L866,773 L867,773 L868,773 L869,773 L870,773 L871,773 L872,773 L873,773 L874,773 L875,773 L876,773 L877,773 L878,773 L879,773 L880,773 L881,773 L882,772.9 L883,772.9 L884,772.9 L885,772.9 L886,772.9 L887,772.8 L888,772.8 L889,772.8 L890,772.7 L891,772.6 L892,772.5 L893,772.4 L894,772.3 L895,772.2 L896,772 L897,771.8 L898,771.6 L899,771.3 L900,771 L901,770.7 L902,770.2 L903,769.7 L904,769.2 L905,768.5 L906,767.8 L907,766.9 L908,766 L909,764.9 L910,763.6 L911,762.2 L912,760.7 L913,758.9 L914,756.9 L915,754.8 L916,752.4 L917,749.8 L918,746.9 L919,743.7 L920,740.3 L921,736.5 L922,732.5 L923,728.1 L924,723.5 L925,718.5 L926,713.2 L927,707.6 L928,701.7 L929,695.5 L930,689 L931,682.3 L932,675.3 L933,668.2 L934,660.8 L935,653.3 L936,645.7 L937,638 L938,630.2 L939,622.6 L940,614.9 L941,607.5 L942,600.1 L943,593.1 L944,586.3 L945,579.8 L946,573.8 L947,568.2 L948,563 L949,558.5 L950,554.4 L951,551 L952,548.3 L953,546.2 L954,544.8 L955,544.1 L956,544 L957,544.3 L958,544.7 L959,545.3 L960,546.1 L961,547 L962,548.2 L963,549.5 L964,550.9 L965,552.5 L966,554.2 L967,556.1 L968,558.1 L969,560.3 L970,562.5 L971,564.9 L972,567.4 L973,570 L974,572.7 L975,575.5 L976,578.4 L977,581.4 L978,584.4 L979,587.6 L980,590.8 L981,594 L982,597.3 L983,600.7 L984,604.1 L985,607.6 L986,611 L987,614.5 L988,618.1 L989,621.6 L990,625.2 L991,628.8 L992,632.3 L993,635.9 L994,639.4 L995,643 L996,646.5 L997,650 L998,653.5 L999,657 L1000,660.4 L1001,663.8 L1002,667.2 L1003,670.5 L1004,673.8 L1005,677 L1006,680.2 L1007,683.3 L1008,686.4 L1009,689.4 L1010,692.4 L1011,695.3 L1012,698.1 L1013,700.9 L1014,703.6 L1015,706.3 L1016,708.9 L1017,711.4 L1018,713.9 L1019,716.3 L1020,718.6 L1021,720.9 L1022,723.1 L1023,725.2 L1024,727.3 L1025,729.3 L1026,731.2 L1027,733.1 L1028,735 L1029,736.7 L1030,738.4 L1031,740 L1032,741.6 L1033,743.1 L1034,744.6 L1035,746 L1036,747.4 L1037,748.7 L1038,749.9 L1039,751.1 L1040,752.2 L1041,753.3 L1042,754.4 L1043,755.4 L1044,756.4 L1045,757.3 L1046,758.1 L1047,759 L1048,759.8 L1049,760.5 L1050,761.2 L1051,761.9 L1052,762.6 L1053,763.2 L1054,763.8 L1055,764.3 L1056,764.9 L1057,765.4 L1058,765.8 L1059,766.3 L1060,766.7 L1061,767.1 L1062,767.5 L1063,767.8 L1064,768.2 L1065,768.5 L1066,768.8 L1067,769.1 L1068,769.3 L1069,769.6 L1070,769.8 L1071,770 L1072,770.2 L1073,770.4 L1074,770.6 L1075,770.8 L1076,770.9 L1077,771.1 L1078,771.2 L1079,771.4 L1080,771.5 L1081,771.6 L1082,771.7 L1083,771.8 L1084,771.9 L1085,772 L1086,772 L1087,772.1 L1088,772.2" fill="none" stroke="#444" stroke-width="1.3" stroke-linejoin="round"/>
<path d="M1131,772 L1132,772 L1133,772 L1134,772 L1135,771.9 L1136,771.9 L1137,771.9 L1138,771.9 L1139,771.9 L1140,771.9 L1141,771.8 L1142,771.8 L1143,771.8 L1144,771.8 L1145,771.8 L1146,771.8 L1147,771.8 L1148,771.7 L1149,771.7 L1150,771.7 L1151,771.7 L1152,771.7 L1153,771.7 L1154,771.6 L1155,771.6 L1156,771.6 L1157,771.6 L1158,771.6 L1159,771.6 L1160,771.6 L1161,771.5 L1162,771.5 L1163,771.5 L1164,771.5 L1165,771.5 L1166,771.4 L1167,771.4 L1168,771.4 L1169,771.4 L1170,771.4 L1171,771.3 L1172,771.3 L1173,771.3 L1174,771.3 L1175,771.3 L1176,771.2 L1177,771.2 L1178,771.2 L1179,771.1 L1180,771.1 L1181,771.1 L1182,771.1 L1183,771 L1184,771 L1185,770.9 L1186,770.9 L1187,770.8 L1188,770.8 L1189,770.7 L1190,770.7 L1191,770.6 L1192,770.5 L1193,770.5 L1194,770.4 L1195,770.3 L1196,770.2 L1197,770.1 L1198,770 L1199,769.9 L1200,769.7 L1201,769.6 L1202,769.4 L1203,769.2 L1204,769.1 L1205,768.9 L1206,768.6 L1207,768.4 L1208,768.1 L1209,767.9 L1210,767.6 L1211,767.3 L1212,766.9 L1213,766.5 L1214,766.1 L1215,765.7 L1216,765.3 L1217,764.8 L1218,764.3 L1219,763.8 L1220,763.2 L1221,762.6 L1222,762 L1223,761.3 L1224,760.6 L1225,759.9 L1226,759.1 L1227,758.3 L1228,757.5 L1229,756.6 L1230,755.7 L1231,754.8 L1232,753.8 L1233,752.8 L1234,751.8 L1235,750.8 L1236,749.7 L1237,748.6 L1238,747.5 L1239,746.4 L1240,745.3 L1241,744.2 L1242,743 L1243,741.9 L1244,740.7 L1245,739.6 L1246,738.5 L1247,737.4 L1248,736.3 L1249,735.2 L1250,734.2 L1251,733.1 L1252,732.2 L1253,731.2 L1254,730.3 L1255,729.5 L1256,728.7 L1257,727.9 L1258,727.2 L1259,726.6 L1260,726 L1261,725.5 L1262,725.1 L1263,724.7 L1264,724.4 L1265,724.2 L1266,724 L1267,723.9 L1268,723.8 L1269,723.8 L1270,723.9 L1271,723.9 L1272,724 L1273,724.2 L1274,724.4 L1275,724.7 L1276,724.9 L1277,725.3 L1278,725.6 L1279,726 L1280,726.4 L1281,726.9 L1282,727.4 L1283,727.9 L1284,728.5 L1285,729 L1286,729.6 L1287,730.3 L1288,730.9 L1289,731.5 L1290,732.2 L1291,732.9 L1292,733.6 L1293,734.3 L1294,735 L1295,735.7 L1296,736.4 L1297,737.2 L1298,737.9 L1299,738.6 L1300,739.3 L1301,740 L1302,740.7 L1303,741.4 L1304,742.1 L1305,742.8 L1306,743.5 L1307,744.1 L1308,744.8 L1309,745.4 L1310,746 L1311,746.6 L1312,747.2 L1313,747.7 L1314,748.3 L1315,748.8 L1316,749.3 L1317,749.8 L1318,750.3 L1319,750.8 L1320,751.2 L1321,751.7 L1322,752.1 L1323,752.5 L1324,752.9 L1325,753.2 L1326,753.6 L1327,753.9 L1328,754.3 L1329,754.6 L1330,754.9 L1331,755.2 L1332,755.4 L1333,755.7 L1334,755.9 L1335,756.1 L1336,756.3 L1337,756.5 L1338,756.7 L1339,756.9 L1340,757.1 L1341,757.2 L1342,757.4 L1343,757.5 L1344,757.7 L1345,757.8 L1346,757.9 L1347,758 L1348,758.1 L1349,758.2 L1350,758.3 L1351,758.4 L1352,758.4 L1353,758.5 L1354,758.6 L1355,758.7 L1356,758.7 L1357,758.8 L1358,758.8 L1359,758.9 L1360,759 L1361,759 L1362,759.1 L1363,759.1 L1364,759.2 L1365,759.2 L1366,759.2 L1367,759.3 L1368,759.3 L1369,759.4 L1370,759.4 L1371,759.5 L1372,759.5 L1373,759.5 L1374,759.6 L1375,759.6 L1376,759.7 L1377,759.7 L1378,759.7 L1379,759.8 L1380,759.8 L1381,759.9 L1382,759.9 L1383,760 L1384,760 L1385,760.1 L1386,760.1 L1387,760.1 L1388,760.2 L1389,760.2 L1390,760.3 L1391,760.3 L1392,760.4 L1393,760.4 L1394,760.5 L1395,760.5 L1396,760.6 L1397,760.6 L1398,760.7 L1399,760.7 L1400,760.8 L1401,760.8 L1402,760.9 L1403,760.9 L1404,761 L1405,761 L1406,761.1 L1407,761.1 L1408,761.2 L1409,761.2 L1410,761.3 L1411,761.3 L1412,761.4 L1413,761.4 L1414,761.5 L1415,761.5 L1416,761.6 L1417,761.6 L1418,761.7 L1419,761.7 L1420,761.8 L1421,761.8 L1422,761.9 L1423,762 L1424,762 L1425,762.1 L1426,762.1 L1427,762.2 L1428,762.2 L1429,762.3 L1430,762.3 L1431,762.4 L1432,762.4 L1433,762.5 L1434,762.5 L1435,762.6 L1436,762.6 L1437,762.7 L1438,762.7 L1439,762.8 L1440,762.8 L1441,762.9 L1442,762.9 L1443,763 L1444,763 L1445,763.1 L1446,763.1 L1447,763.2 L1448,763.2 L1449,763.3 L1450,763.3 L1451,763.4 L1452,763.4 L1453,763.5 L1454,763.5 L1455,763.5 L1456,763.6 L1457,763.6 L1458,763.7 L1459,763.7 L1460,763.8 L1461,763.8 L1462,763.8 L1463,763.9 L1464,763.9 L1465,764 L1466,764 L1467,764 L1468,764.1 L1469,764.1 L1470,764.2 L1471,764.2 L1472,764.2 L1473,764.3 L1474,764.3 L1475,764.3 L1476,764.4 L1477,764.4 L1478,764.4 L1479,764.5 L1480,764.5 L1481,764.5 L1482,764.6 L1483,764.6 L1484,764.6 L1485,764.7 L1486,764.7 L1487,764.7 L1488,764.7 L1489,764.8 L1490,764.8 L1491,764.8 L1492,764.9 L1493,764.9 L1494,764.9 L1495,764.9 L1496,764.9 L1497,765 L1498,765 L1499,765 L1500,765 L1501,765.1 L1502,765.1 L1503,765.1 L1504,765.1 L1505,765.1 L1506,765.2 L1507,765.2 L1508,765.2 L1509,765.2 L1510,765.2 L1511,765.2 L1512,765.2 L1513,765.3 L1514,765.3 L1515,765.3 L1516,765.3 L1517,765.3 L1518,765.3 L1519,765.3 L1520,765.4 L1521,765.4 L1522,765.4 L1523,765.4 L1524,765.4 L1525,765.4 L1526,765.4 L1527,765.4 L1528,765.4 L1529,765.4 L1530,765.4 L1531,765.4 L1532,765.5 L1533,765.5 L1534,765.5 L1535,765.5 L1536,765.5 L1537,765.5 L1538,765.5 L1539,765.5 L1540,765.5 L1541,765.5 L1542,765.5 L1543,765.5 L1544,765.5 L1545,765.5 L1546,765.5 L1547,765.5 L1548,765.5 L1549,765.5 L1550,765.5" fill="none" stroke="#5a5aff" stroke-width="1.3" stroke-linejoin="round"/>
<path d="M1234,779 L1235,778.9 L1236,778.8 L1237,778.7 L1238,778.6 L1239,778.5 L1240,778.5 L1241,778.4 L1242,778.3 L1243,778.2 L1244,778.1 L1245,778 L1246,777.9 L1247,777.8 L1248,777.7 L1249,777.6 L1250,777.5 L1251,777.4 L1252,777.3 L1253,777.2 L1254,777.2 L1255,777.1 L1256,777 L1257,776.9 L1258,776.8 L1259,776.7 L1260,776.6 L1261,776.5 L1262,776.4 L1263,776.3 L1264,776.2 L1265,776 L1266,775.9 L1267,775.8 L1268,775.7 L1269,775.6 L1270,775.4 L1271,775.3 L1272,775.2 L1273,775 L1274,774.9 L1275,774.7 L1276,774.5 L1277,774.3 L1278,774.1 L1279,773.9 L1280,773.7 L1281,773.4 L1282,773.2 L1283,772.9 L1284,772.5 L1285,772.2 L1286,771.8 L1287,771.4 L1288,771 L1289,770.5 L1290,770 L1291,769.4 L1292,768.8 L1293,768.2 L1294,767.5 L1295,766.7 L1296,765.9 L1297,765 L1298,764 L1299,763 L1300,761.9 L1301,760.8 L1302,759.5 L1303,758.2 L1304,756.8 L1305,755.3 L1306,753.7 L1307,752.1 L1308,750.4 L1309,748.5 L1310,746.6 L1311,744.6 L1312,742.6 L1313,740.4 L1314,738.2 L1315,735.9 L1316,733.5 L1317,731.1 L1318,728.6 L1319,726 L1320,723.5 L1321,720.9 L1322,718.2 L1323,715.6 L1324,712.9 L1325,710.3 L1326,707.7 L1327,705.1 L1328,702.5 L1329,700 L1330,697.6 L1331,695.2 L1332,692.9 L1333,690.8 L1334,688.7 L1335,686.8 L1336,685 L1337,683.3 L1338,681.8 L1339,680.4 L1340,679.2 L1341,678.2 L1342,677.4 L1343,676.8 L1344,676.3 L1345,676.1 L1346,676 L1347,676.1 L1348,676.4 L1349,676.9 L1350,677.6 L1351,678.4 L1352,679.5 L1353,680.7 L1354,682 L1355,683.6 L1356,685.2 L1357,687 L1358,688.9 L1359,690.9 L1360,693 L1361,695.2 L1362,697.5 L1363,699.8 L1364,702.2 L1365,704.6 L1366,707.1 L1367,709.5 L1368,712 L1369,714.4 L1370,716.9 L1371,719.3 L1372,721.7 L1373,724 L1374,726.3 L1375,728.6 L1376,730.7 L1377,732.8 L1378,734.9 L1379,736.8 L1380,738.7 L1381,740.5 L1382,742.2 L1383,743.8 L1384,745.4 L1385,746.8 L1386,748.2 L1387,749.5 L1388,750.7 L1389,751.8 L1390,752.8 L1391,753.8 L1392,754.7 L1393,755.5 L1394,756.3 L1395,757 L1396,757.6 L1397,758.2 L1398,758.7" fill="none" stroke="#ff5a5a" stroke-width="1.3" stroke-linejoin="round"/>
<path d="M1381,763.3 L1382,763.1 L1383,763 L1384,762.9 L1385,762.7 L1386,762.6 L1387,762.4 L1388,762.2 L1389,762.1 L1390,761.9 L1391,761.7 L1392,761.5 L1393,761.3 L1394,761.1 L1395,760.9 L1396,760.7 L1397,760.5 L1398,760.3 L1399,760.1 L1400,759.8 L1401,759.6 L1402,759.4 L1403,759.1 L1404,758.9 L1405,758.6 L1406,758.4 L1407,758.1 L1408,757.9 L1409,757.6 L1410,757.4 L1411,757.1 L1412,756.9 L1413,756.6 L1414,756.4 L1415,756.1 L1416,755.9 L1417,755.6 L1418,755.4 L1419,755.2 L1420,754.9 L1421,754.7 L1422,754.5 L1423,754.3 L1424,754.1 L1425,753.9 L1426,753.7 L1427,753.5 L1428,753.3 L1429,753.1 L1430,753 L1431,752.8 L1432,752.6 L1433,752.5 L1434,752.3 L1435,752.2 L1436,752 L1437,751.8 L1438,751.6 L1439,751.4 L1440,751.2 L1441,750.9 L1442,750.7 L1443,750.3 L1444,750 L1445,749.6 L1446,749.2 L1447,748.7 L1448,748.1 L1449,747.4 L1450,746.6 L1451,745.8 L1452,744.8 L1453,743.7 L1454,742.4 L1455,741.1 L1456,739.6 L1457,738 L1458,736.3 L1459,734.5 L1460,732.6 L1461,730.7 L1462,728.6 L1463,726.6 L1464,724.5 L1465,722.5 L1466,720.5 L1467,718.6 L1468,716.8 L1469,715.2 L1470,713.8 L1471,712.5 L1472,711.5 L1473,710.7 L1474,710.2 L1475,709.9 L1476,710 L1477,710.4 L1478,711.2 L1479,712.4 L1480,714 L1481,715.9 L1482,718.1 L1483,720.5 L1484,723.2 L1485,726 L1486,728.8 L1487,731.8 L1488,734.7 L1489,737.5 L1490,740.3 L1491,742.9 L1492,745.4 L1493,747.7 L1494,749.8 L1495,751.8 L1496,753.5 L1497,755.1 L1498,756.5 L1499,757.7 L1500,758.7 L1501,759.6 L1502,760.3 L1503,760.9 L1504,761.5 L1505,761.9 L1506,762.2 L1507,762.5 L1508,762.7 L1509,762.9 L1510,763 L1511,763.1 L1512,763.2 L1513,763.2 L1514,763.3 L1515,763.3 L1516,763.3 L1517,763.3 L1518,763.3 L1519,763.3 L1520,763.3 L1521,763.3 L1522,763.3 L1523,763.3 L1524,763.3 L1525,763.3 L1526,763.3 L1527,763.3 L1528,763.3 L1529,763.2 L1530,763.2 L1531,763.2 L1532,763.2 L1533,763.2 L1534,763.2 L1535,763.2 L1536,763.2 L1537,763.2 L1538,763.1 L1539,763.1 L1540,763.1 L1541,763.1 L1542,763.1 L1543,763.1 L1544,763.1 L1545,763.1 L1546,763 L1547,763 L1548,763 L1549,763 L1550,763" fill="none" stroke="#ff50ff" stroke-width="1.3" stroke-linejoin="round"/>
<path d="M1438,763.6 L1439,763.5 L1440,763.3 L1441,763.1 L1442,763 L1443,762.8 L1444,762.6 L1445,762.5 L1446,762.3 L1447,762.1 L1448,761.9 L1449,761.7 L1450,761.5 L1451,761.4 L1452,761.2 L1453,761 L1454,760.8 L1455,760.6 L1456,760.4 L1457,760.3 L1458,760.1 L1459,760 L1460,759.8 L1461,759.7 L1462,759.5 L1463,759.4 L1464,759.3 L1465,759.2 L1466,759.1 L1467,759 L1468,759 L1469,758.9 L1470,758.9 L1471,758.8 L1472,758.8 L1473,758.8 L1474,758.8 L1475,758.8 L1476,758.8 L1477,758.9 L1478,758.9 L1479,758.9 L1480,758.9 L1481,758.9 L1482,758.9 L1483,758.8 L1484,758.6 L1485,758.4 L1486,758 L1487,757.5 L1488,756.8 L1489,755.8 L1490,754.6 L1491,753 L1492,751.1 L1493,748.7 L1494,745.9 L1495,742.7 L1496,739.1 L1497,735 L1498,730.7 L1499,726.2 L1500,721.6 L1501,717 L1502,712.7 L1503,708.7 L1504,705.3 L1505,702.6 L1506,700.7 L1507,699.6 L1508,699.6 L1509,700.1 L1510,701.1 L1511,702.5 L1512,704.4 L1513,706.7 L1514,709.4 L1515,712.3 L1516,715.4 L1517,718.7 L1518,722.1 L1519,725.5 L1520,728.9 L1521,732.2 L1522,735.4 L1523,738.5 L1524,741.3 L1525,744 L1526,746.4 L1527,748.6 L1528,750.6 L1529,752.3 L1530,753.8 L1531,755.2 L1532,756.3 L1533,757.2 L1534,758.1 L1535,758.7 L1536,759.3 L1537,759.7 L1538,760 L1539,760.3 L1540,760.5 L1541,760.7 L1542,760.8 L1543,760.9 L1544,760.9 L1545,761 L1546,761 L1547,761 L1548,761 L1549,761 L1550,761" fill="none" stroke="#444" stroke-width="1.3" stroke-linejoin="round"/>
<path d="M758,1140.1 L759,1139.7 L760,1139.3 L761,1138.8 L762,1138.3 L763,1137.8 L764,1137.1 L765,1136.5 L766,1135.7 L767,1134.9 L768,1134.1 L769,1133.2 L770,1132.2 L771,1131.1 L772,1130 L773,1128.7 L774,1127.4 L775,1126.1 L776,1124.6 L777,1123.1 L778,1121.4 L779,1119.7 L780,1118 L781,1116.1 L782,1114.2 L783,1112.1 L784,1110.1 L785,1107.9 L786,1105.7 L787,1103.4 L788,1101.1 L789,1098.7 L790,1096.3 L791,1093.8 L792,1091.3 L793,1088.8 L794,1086.2 L795,1083.6 L796,1081.1 L797,1078.5 L798,1076 L799,1073.5 L800,1070.9 L801,1068.5 L802,1066.1 L803,1063.7 L804,1061.4 L805,1059.1 L806,1056.9 L807,1054.8 L808,1052.8 L809,1050.8 L810,1049 L811,1047.2 L812,1045.6 L813,1044 L814,1042.5 L815,1041.2 L816,1039.9 L817,1038.8 L818,1037.8 L819,1036.8 L820,1036 L821,1035.3 L822,1034.6 L823,1034.1 L824,1033.6 L825,1033.3 L826,1033 L827,1032.8 L828,1032.6 L829,1032.5 L830,1032.5 L831,1032.5 L832,1032.5 L833,1032.6 L834,1032.7 L835,1032.9 L836,1033.2 L837,1033.6 L838,1034.1 L839,1034.7 L840,1035.4 L841,1036.3 L842,1037.3 L843,1038.4 L844,1039.7 L845,1041.1 L846,1042.6 L847,1044.3 L848,1046.1 L849,1048.1 L850,1050.1 L851,1052.3 L852,1054.6 L853,1057 L854,1059.5 L855,1062.1 L856,1064.7 L857,1067.5 L858,1070.3 L859,1073.1 L860,1076 L861,1078.9 L862,1081.8 L863,1084.7 L864,1087.6 L865,1090.5 L866,1093.4 L867,1096.2 L868,1098.9 L869,1101.6 L870,1104.3 L871,1106.8 L872,1109.3 L873,1111.7 L874,1114 L875,1116.2 L876,1118.3 L877,1120.3 L878,1122.2 L879,1124 L880,1125.7 L881,1127.3 L882,1128.8 L883,1130.2 L884,1131.4 L885,1132.6 L886,1133.7 L887,1134.7 L888,1135.6 L889,1136.5 L890,1137.2 L891,1137.9 L892,1138.5 L893,1139.1 L894,1139.6 L895,1140 L896,1140.4 L897,1140.8 L898,1141.1 L899,1141.4 L900,1141.6 L901,1141.8 L902,1142 L903,1142.1 L904,1142.3 L905,1142.4 L906,1142.5 L907,1142.6 L908,1142.6 L909,1142.7 L910,1142.8 L911,1142.8 L912,1142.8 L913,1142.9 L914,1142.9 L915,1142.9 L916,1142.9 L917,1142.9 L918,1143 L919,1143 L920,1143 L921,1143 L922,1143 L923,1143 L924,1143 L925,1143 L926,1143 L927,1143 L928,1143 L929,1143 L930,1143 L931,1143 L932,1143 L933,1143 L934,1143 L935,1143 L936,1143 L937,1143 L938,1143 L939,1143 L940,1143 L941,1143 L942,1143 L943,1143 L944,1143 L945,1143 L946,1143 L947,1143 L948,1143 L949,1143 L950,1143 L951,1143 L952,1143 L953,1143 L954,1143 L955,1143 L956,1143 L957,1143 L958,1143 L959,1143 L960,1143 L961,1143 L962,1143 L963,1143 L964,1143 L965,1143 L966,1143 L967,1143 L968,1143 L969,1143 L970,1143 L971,1143 L972,1143 L973,1143 L974,1143 L975,1143 L976,1143 L977,1143 L978,1143 L979,1143 L980,1143 L981,1143 L982,1143 L983,1143 L984,1143 L985,1143 L986,1143 L987,1143 L988,1143 L989,1143 L990,1143 L991,1143 L992,1143 L993,1143 L994,1143 L995,1143 L996,1143 L997,1143 L998,1143 L999,1143 L1000,1143 L1001,1143 L1002,1143 L1003,1143 L1004,1143 L1005,1143 L1006,1143 L1007,1143 L1008,1143 L1009,1143 L1010,1143 L1011,1143 L1012,1143 L1013,1143 L1014,1143 L1015,1143 L1016,1143 L1017,1143 L1018,1143 L1019,1143 L1020,1143 L1021,1143 L1022,1143 L1023,1143 L1024,1143 L1025,1143 L1026,1143 L1027,1143 L1028,1143 L1029,1143 L1030,1143 L1031,1143 L1032,1143 L1033,1143 L1034,1143 L1035,1143 L1036,1143 L1037,1143 L1038,1143 L1039,1143 L1040,1143 L1041,1143 L1042,1143 L1043,1143 L1044,1143 L1045,1143 L1046,1143 L1047,1143 L1048,1143 L1049,1143 L1050,1143 L1051,1143 L1052,1143 L1053,1143 L1054,1143 L1055,1143 L1056,1143 L1057,1143 L1058,1143 L1059,1143 L1060,1143 L1061,1143 L1062,1143 L1063,1143 L1064,1143 L1065,1143 L1066,1143 L1067,1143 L1068,1143 L1069,1143 L1070,1143 L1071,1143 L1072,1143 L1073,1143 L1074,1143 L1075,1143 L1076,1143 L1077,1143 L1078,1143 L1079,1143 L1080,1143 L1081,1143 L1082,1143 L1083,1143 L1084,1143 L1085,1143 L1086,1143 L1087,1143 L1088,1143 L1089,1143 L1090,1143 L1091,1143 L1092,1143 L1093,1143 L1094,1143 L1095,1143 L1096,1143 L1097,1143 L1098,1143 L1099,1143 L1100,1143 L1101,1143 L1102,1143 L1103,1143 L1104,1143 L1105,1143 L1106,1143 L1107,1143 L1108,1143 L1109,1143 L1110,1143 L1111,1143 L1112,1143 L1113,1143 L1114,1143 L1115,1143 L1116,1143 L1117,1143 L1118,1143 L1119,1143 L1120,1143 L1121,1143 L1122,1143 L1123,1143 L1124,1143 L1125,1143 L1126,1143 L1127,1143 L1128,1143 L1129,1143 L1130,1143 L1131,1143 L1132,1143 L1133,1143 L1134,1143 L1135,1143 L1136,1143 L1137,1143 L1138,1143 L1139,1143 L1140,1143 L1141,1143 L1142,1143 L1143,1143 L1144,1143 L1145,1143 L1146,1143 L1147,1143 L1148,1143 L1149,1143 L1150,1143 L1151,1143 L1152,1143 L1153,1143 L1154,1143 L1155,1143 L1156,1143 L1157,1143 L1158,1143 L1159,1143 L1160,1143 L1161,1143 L1162,1143 L1163,1143 L1164,1143 L1165,1143 L1166,1143 L1167,1143 L1168,1143 L1169,1143 L1170,1143 L1171,1143 L1172,1143 L1173,1143 L1174,1143 L1175,1143 L1176,1143 L1177,1143 L1178,1143 L1179,1143 L1180,1143 L1181,1143 L1182,1143 L1183,1143 L1184,1143 L1185,1143 L1186,1143 L1187,1143 L1188,1143 L1189,1143 L1190,1143 L1191,1143 L1192,1143 L1193,1143 L1194,1143 L1195,1143 L1196,1143 L1197,1143 L1198,1143 L1199,1143 L1200,1143 L1201,1143 L1202,1143 L1203,1143 L1204,1143 L1205,1143 L1206,1143 L1207,1143 L1208,1143 L1209,1143 L1210,1143 L1211,1143 L1212,1143 L1213,1143 L1214,1143 L1215,1143 L1216,1143 L1217,1143 L1218,1143 L1219,1143 L1220,1143 L1221,1143 L1222,1143 L1223,1143 L1224,1143 L1225,1143 L1226,1143 L1227,1143 L1228,1143 L1229,1143 L1230,1143 L1231,1143 L1232,1143" fill="none" stroke="#5a5aff" stroke-width="1.3" stroke-linejoin="round"/>
<path d="M817,1136.4 L818,1136.3 L819,1136.1 L820,1135.9 L821,1135.7 L822,1135.5 L823,1135.3 L824,1135.1 L825,1134.9 L826,1134.6 L827,1134.4 L828,1134.2 L829,1133.9 L830,1133.6 L831,1133.4 L832,1133.1 L833,1132.8 L834,1132.5 L835,1132.2 L836,1131.8 L837,1131.5 L838,1131.1 L839,1130.7 L840,1130.3 L841,1129.8 L842,1129.4 L843,1128.9 L844,1128.3 L845,1127.8 L846,1127.2 L847,1126.6 L848,1125.9 L849,1125.2 L850,1124.4 L851,1123.7 L852,1122.8 L853,1121.9 L854,1121 L855,1120 L856,1119 L857,1117.9 L858,1116.8 L859,1115.6 L860,1114.4 L861,1113.1 L862,1111.7 L863,1110.3 L864,1108.9 L865,1107.4 L866,1105.8 L867,1104.2 L868,1102.6 L869,1100.9 L870,1099.2 L871,1097.5 L872,1095.7 L873,1093.9 L874,1092.1 L875,1090.3 L876,1088.5 L877,1086.7 L878,1084.9 L879,1083.1 L880,1081.3 L881,1079.6 L882,1077.8 L883,1076.2 L884,1074.6 L885,1073 L886,1071.5 L887,1070.1 L888,1068.8 L889,1067.6 L890,1066.4 L891,1065.4 L892,1064.4 L893,1063.6 L894,1062.9 L895,1062.3 L896,1061.9 L897,1061.5 L898,1061.3 L899,1061.2 L900,1061.3 L901,1061.5 L902,1061.8 L903,1062.2 L904,1062.7 L905,1063.3 L906,1064 L907,1064.9 L908,1065.8 L909,1066.8 L910,1068 L911,1069.2 L912,1070.5 L913,1071.8 L914,1073.3 L915,1074.8 L916,1076.4 L917,1078 L918,1079.7 L919,1081.4 L920,1083.2 L921,1085 L922,1086.9 L923,1088.7 L924,1090.6 L925,1092.4 L926,1094.3 L927,1096.2 L928,1098.1 L929,1099.9 L930,1101.8 L931,1103.6 L932,1105.4 L933,1107.1 L934,1108.9 L935,1110.6 L936,1112.2 L937,1113.8 L938,1115.4 L939,1116.9 L940,1118.4 L941,1119.8 L942,1121.2 L943,1122.5 L944,1123.8 L945,1125 L946,1126.2 L947,1127.3 L948,1128.4 L949,1129.4 L950,1130.3 L951,1131.2 L952,1132.1 L953,1132.9 L954,1133.7 L955,1134.4 L956,1135.1 L957,1135.7 L958,1136.3 L959,1136.9 L960,1137.4 L961,1137.9 L962,1138.3 L963,1138.7 L964,1139.1 L965,1139.5 L966,1139.8 L967,1140.1 L968,1140.4" fill="none" stroke="#ff5a5a" stroke-width="1.3" stroke-linejoin="round"/>
<path d="M942,1131.2 L943,1131.1 L944,1130.9 L945,1130.7 L946,1130.6 L947,1130.4 L948,1130.2 L949,1130 L950,1129.9 L951,1129.7 L952,1129.5 L953,1129.3 L954,1129.1 L955,1128.9 L956,1128.7 L957,1128.6 L958,1128.4 L959,1128.2 L960,1128 L961,1127.8 L962,1127.6 L963,1127.4 L964,1127.2 L965,1127 L966,1126.8 L967,1126.6 L968,1126.4 L969,1126.2 L970,1126 L971,1125.8 L972,1125.6 L973,1125.4 L974,1125.2 L975,1125 L976,1124.8 L977,1124.7 L978,1124.5 L979,1124.3 L980,1124.1 L981,1123.9 L982,1123.8 L983,1123.6 L984,1123.4 L985,1123.3 L986,1123.1 L987,1123 L988,1122.8 L989,1122.7 L990,1122.5 L991,1122.4 L992,1122.3 L993,1122.1 L994,1122 L995,1121.9 L996,1121.7 L997,1121.6 L998,1121.5 L999,1121.4 L1000,1121.2 L1001,1121.1 L1002,1120.9 L1003,1120.8 L1004,1120.6 L1005,1120.4 L1006,1120.2 L1007,1120 L1008,1119.7 L1009,1119.4 L1010,1119.1 L1011,1118.8 L1012,1118.4 L1013,1117.9 L1014,1117.4 L1015,1116.9 L1016,1116.3 L1017,1115.6 L1018,1114.8 L1019,1114 L1020,1113.1 L1021,1112 L1022,1110.9 L1023,1109.6 L1024,1108.2 L1025,1106.7 L1026,1105 L1027,1103.2 L1028,1101.3 L1029,1099.2 L1030,1097 L1031,1094.6 L1032,1092.2 L1033,1089.5 L1034,1086.8 L1035,1084 L1036,1081.1 L1037,1078.1 L1038,1075 L1039,1071.9 L1040,1068.8 L1041,1065.6 L1042,1062.5 L1043,1059.5 L1044,1056.5 L1045,1053.6 L1046,1050.9 L1047,1048.3 L1048,1045.8 L1049,1043.6 L1050,1041.6 L1051,1039.9 L1052,1038.4 L1053,1037.2 L1054,1036.4 L1055,1035.8 L1056,1035.5 L1057,1035.6 L1058,1036 L1059,1036.9 L1060,1038.1 L1061,1039.7 L1062,1041.7 L1063,1044 L1064,1046.6 L1065,1049.5 L1066,1052.7 L1067,1056.1 L1068,1059.7 L1069,1063.4 L1070,1067.2 L1071,1071.1 L1072,1075.1 L1073,1079 L1074,1082.9 L1075,1086.8 L1076,1090.5 L1077,1094.2 L1078,1097.7 L1079,1101.1 L1080,1104.3 L1081,1107.4 L1082,1110.3 L1083,1113 L1084,1115.5 L1085,1117.8 L1086,1119.9 L1087,1121.8 L1088,1123.6 L1089,1125.2 L1090,1126.7 L1091,1128 L1092,1129.1 L1093,1130.1 L1094,1131 L1095,1131.8 L1096,1132.5 L1097,1133.1 L1098,1133.7 L1099,1134.1 L1100,1134.5 L1101,1134.9 L1102,1135.1 L1103,1135.4 L1104,1135.6 L1105,1135.8 L1106,1135.9 L1107,1136 L1108,1136.1 L1109,1136.2 L1110,1136.3 L1111,1136.3 L1112,1136.4 L1113,1136.4 L1114,1136.5 L1115,1136.5 L1116,1136.5 L1117,1136.5 L1118,1136.5 L1119,1136.6 L1120,1136.6 L1121,1136.6 L1122,1136.6 L1123,1136.6 L1124,1136.6 L1125,1136.6 L1126,1136.6 L1127,1136.6 L1128,1136.6 L1129,1136.6 L1130,1136.6 L1131,1136.6 L1132,1136.7 L1133,1136.7 L1134,1136.7 L1135,1136.7 L1136,1136.7 L1137,1136.7 L1138,1136.7 L1139,1136.7 L1140,1136.7 L1141,1136.7 L1142,1136.7 L1143,1136.7 L1144,1136.7 L1145,1136.7 L1146,1136.7 L1147,1136.7 L1148,1136.7 L1149,1136.7 L1150,1136.7 L1151,1136.7 L1152,1136.7 L1153,1136.7 L1154,1136.7 L1155,1136.7 L1156,1136.7 L1157,1136.7 L1158,1136.7 L1159,1136.7 L1160,1136.8 L1161,1136.8 L1162,1136.8 L1163,1136.8 L1164,1136.8 L1165,1136.8 L1166,1136.8 L1167,1136.8 L1168,1136.8 L1169,1136.8 L1170,1136.8 L1171,1136.8 L1172,1136.8 L1173,1136.8 L1174,1136.8 L1175,1136.8 L1176,1136.8 L1177,1136.8 L1178,1136.8 L1179,1136.8 L1180,1136.8 L1181,1136.8 L1182,1136.8 L1183,1136.8 L1184,1136.8 L1185,1136.8 L1186,1136.8 L1187,1136.8 L1188,1136.8 L1189,1136.9 L1190,1136.9 L1191,1136.9 L1192,1136.9 L1193,1136.9 L1194,1136.9 L1195,1136.9 L1196,1136.9 L1197,1136.9 L1198,1136.9 L1199,1136.9 L1200,1136.9 L1201,1136.9 L1202,1136.9 L1203,1136.9 L1204,1136.9 L1205,1136.9 L1206,1136.9 L1207,1136.9 L1208,1136.9 L1209,1136.9 L1210,1136.9 L1211,1136.9 L1212,1136.9 L1213,1136.9 L1214,1136.9 L1215,1136.9 L1216,1136.9 L1217,1136.9 L1218,1137 L1219,1137 L1220,1137 L1221,1137 L1222,1137 L1223,1137 L1224,1137 L1225,1137 L1226,1137 L1227,1137 L1228,1137 L1229,1137 L1230,1137 L1231,1137 L1232,1137" fill="none" stroke="#ff50ff" stroke-width="1.3" stroke-linejoin="round"/>
<path d="M1089,1128.5 L1090,1128.1 L1091,1127.7 L1092,1127.3 L1093,1126.8 L1094,1126.3 L1095,1125.8 L1096,1125.2 L1097,1124.5 L1098,1123.8 L1099,1123.1 L1100,1122.3 L1101,1121.4 L1102,1120.5 L1103,1119.5 L1104,1118.4 L1105,1117.3 L1106,1116.1 L1107,1114.8 L1108,1113.4 L1109,1111.9 L1110,1110.3 L1111,1108.7 L1112,1106.9 L1113,1105 L1114,1103 L1115,1100.9 L1116,1098.6 L1117,1096.3 L1118,1093.8 L1119,1091.1 L1120,1088.3 L1121,1085.4 L1122,1082.4 L1123,1079.1 L1124,1075.7 L1125,1072.2 L1126,1068.5 L1127,1064.6 L1128,1060.5 L1129,1056.3 L1130,1051.9 L1131,1047.3 L1132,1042.6 L1133,1037.6 L1134,1032.5 L1135,1027.2 L1136,1021.7 L1137,1016.1 L1138,1010.2 L1139,1004.2 L1140,998.1 L1141,991.7 L1142,985.3 L1143,978.6 L1144,971.9 L1145,965 L1146,958.1 L1147,951 L1148,943.9 L1149,936.7 L1150,929.5 L1151,922.3 L1152,915.2 L1153,908 L1154,901 L1155,894.1 L1156,887.3 L1157,880.7 L1158,874.4 L1159,868.5 L1160,862.9 L1161,857.8 L1162,853.3 L1163,849.5 L1164,846.7 L1165,845.7 L1166,846.1 L1167,847 L1168,848.5 L1169,850.7 L1170,853.5 L1171,857.1 L1172,861.4 L1173,866.5 L1174,872.3 L1175,878.9 L1176,886.1 L1177,893.9 L1178,902.4 L1179,911.3 L1180,920.8 L1181,930.6 L1182,940.8 L1183,951.2 L1184,961.8 L1185,972.5 L1186,983.2 L1187,993.9 L1188,1004.4 L1189,1014.7 L1190,1024.8 L1191,1034.6 L1192,1044 L1193,1053 L1194,1061.6 L1195,1069.8 L1196,1077.4 L1197,1084.6 L1198,1091.2 L1199,1097.4 L1200,1103.1 L1201,1108.2 L1202,1113 L1203,1117.2 L1204,1121.1 L1205,1124.5 L1206,1127.6 L1207,1130.3 L1208,1132.7 L1209,1134.8 L1210,1136.6 L1211,1138.2 L1212,1139.6 L1213,1140.8 L1214,1141.8 L1215,1142.7 L1216,1143.5 L1217,1144.1 L1218,1144.6 L1219,1145.1 L1220,1145.5 L1221,1145.9 L1222,1146.2 L1223,1146.4 L1224,1146.7 L1225,1146.9 L1226,1147 L1227,1147.2 L1228,1147.4 L1229,1147.5 L1230,1147.6 L1231,1147.7 L1232,1147.9 L1233,1148" fill="none" stroke="#444" stroke-width="1.3" stroke-linejoin="round"/>
<path d="M1180,1140 L1181,1140 L1182,1140 L1183,1140 L1184,1140 L1185,1140 L1186,1140 L1187,1140.1 L1188,1140.1 L1189,1140.1 L1190,1140.1 L1191,1140.1 L1192,1140.1 L1193,1140.1 L1194,1140.1 L1195,1140.1 L1196,1140.1 L1197,1140.1 L1198,1140.1 L1199,1140.1 L1200,1140.1 L1201,1140.1 L1202,1140.1 L1203,1140.1 L1204,1140.1 L1205,1140.1 L1206,1140.1 L1207,1140.1 L1208,1140.1 L1209,1140.1 L1210,1140 L1211,1140 L1212,1140 L1213,1139.9 L1214,1139.8 L1215,1139.8 L1216,1139.7 L1217,1139.6 L1218,1139.4 L1219,1139.3 L1220,1139.1 L1221,1138.9 L1222,1138.7 L1223,1138.4 L1224,1138.2 L1225,1137.8 L1226,1137.5 L1227,1137 L1228,1136.6 L1229,1136.1 L1230,1135.5 L1231,1134.9 L1232,1134.2 L1233,1133.4 L1234,1132.6 L1235,1131.7 L1236,1130.7 L1237,1129.7 L1238,1128.5 L1239,1127.3 L1240,1126 L1241,1124.6 L1242,1123.1 L1243,1121.6 L1244,1119.9 L1245,1118.2 L1246,1116.3 L1247,1114.4 L1248,1112.4 L1249,1110.3 L1250,1108.1 L1251,1105.9 L1252,1103.6 L1253,1101.2 L1254,1098.8 L1255,1096.3 L1256,1093.8 L1257,1091.2 L1258,1088.6 L1259,1085.9 L1260,1083.3 L1261,1080.6 L1262,1077.9 L1263,1075.2 L1264,1072.6 L1265,1069.9 L1266,1067.3 L1267,1064.7 L1268,1062.1 L1269,1059.6 L1270,1057.2 L1271,1054.7 L1272,1052.4 L1273,1050.1 L1274,1047.9 L1275,1045.8 L1276,1043.8 L1277,1041.8 L1278,1039.9 L1279,1038.1 L1280,1036.4 L1281,1034.8 L1282,1033.3 L1283,1031.9 L1284,1030.6 L1285,1029.4 L1286,1028.2 L1287,1027.2 L1288,1026.2 L1289,1025.3 L1290,1024.5 L1291,1023.8 L1292,1023.2 L1293,1022.6 L1294,1022.1 L1295,1021.7 L1296,1021.3 L1297,1021 L1298,1020.7 L1299,1020.5 L1300,1020.4 L1301,1020.2 L1302,1020.1 L1303,1020.1 L1304,1020 L1305,1020 L1306,1020 L1307,1020 L1308,1020 L1309,1020 L1310,1020 L1311,1020.1 L1312,1020.1 L1313,1020.2 L1314,1020.3 L1315,1020.4 L1316,1020.5 L1317,1020.7 L1318,1020.9 L1319,1021.2 L1320,1021.4 L1321,1021.7 L1322,1022.1 L1323,1022.5 L1324,1022.9 L1325,1023.4 L1326,1023.9 L1327,1024.5 L1328,1025.1 L1329,1025.8 L1330,1026.5 L1331,1027.2 L1332,1028 L1333,1028.9 L1334,1029.8 L1335,1030.8 L1336,1031.8 L1337,1032.8 L1338,1033.9 L1339,1035.1 L1340,1036.2 L1341,1037.5 L1342,1038.8 L1343,1040.1 L1344,1041.5 L1345,1042.9 L1346,1044.3 L1347,1045.8 L1348,1047.4 L1349,1049 L1350,1050.6 L1351,1052.2 L1352,1053.9 L1353,1055.6 L1354,1057.3 L1355,1059 L1356,1060.8 L1357,1062.6 L1358,1064.4 L1359,1066.2 L1360,1068.1 L1361,1069.9 L1362,1071.8 L1363,1073.6 L1364,1075.5 L1365,1077.4 L1366,1079.2 L1367,1081.1 L1368,1083 L1369,1084.8 L1370,1086.6 L1371,1088.5 L1372,1090.3 L1373,1092.1 L1374,1093.8 L1375,1095.6 L1376,1097.3 L1377,1099 L1378,1100.7 L1379,1102.3 L1380,1103.9 L1381,1105.5 L1382,1107.1 L1383,1108.6 L1384,1110.1 L1385,1111.5 L1386,1112.9 L1387,1114.3 L1388,1115.6 L1389,1116.9 L1390,1118.1 L1391,1119.4 L1392,1120.5 L1393,1121.7 L1394,1122.8 L1395,1123.8 L1396,1124.8 L1397,1125.8 L1398,1126.7 L1399,1127.6 L1400,1128.5 L1401,1129.3 L1402,1130.1 L1403,1130.8 L1404,1131.6 L1405,1132.2 L1406,1132.9 L1407,1133.5 L1408,1134.1 L1409,1134.6 L1410,1135.2 L1411,1135.6 L1412,1136.1 L1413,1136.6 L1414,1137 L1415,1137.3 L1416,1137.7 L1417,1138.1 L1418,1138.4 L1419,1138.7 L1420,1139 L1421,1139.2 L1422,1139.5 L1423,1139.7 L1424,1139.9 L1425,1140.1 L1426,1140.3 L1427,1140.4 L1428,1140.6 L1429,1140.7 L1430,1140.9 L1431,1141 L1432,1141.1 L1433,1141.2 L1434,1141.3 L1435,1141.4 L1436,1141.5 L1437,1141.6 L1438,1141.6 L1439,1141.7 L1440,1141.8 L1441,1141.8 L1442,1141.9 L1443,1141.9 L1444,1141.9 L1445,1142 L1446,1142 L1447,1142.1 L1448,1142.1 L1449,1142.1 L1450,1142.1 L1451,1142.2 L1452,1142.2 L1453,1142.2 L1454,1142.2 L1455,1142.2 L1456,1142.3 L1457,1142.3 L1458,1142.3 L1459,1142.3 L1460,1142.3 L1461,1142.3 L1462,1142.3 L1463,1142.4 L1464,1142.4 L1465,1142.4 L1466,1142.4 L1467,1142.4 L1468,1142.4 L1469,1142.4 L1470,1142.4 L1471,1142.4 L1472,1142.5 L1473,1142.5 L1474,1142.5 L1475,1142.5 L1476,1142.5 L1477,1142.5 L1478,1142.5 L1479,1142.5 L1480,1142.5 L1481,1142.5 L1482,1142.5 L1483,1142.6 L1484,1142.6 L1485,1142.6 L1486,1142.6 L1487,1142.6 L1488,1142.6 L1489,1142.6 L1490,1142.6 L1491,1142.6 L1492,1142.6 L1493,1142.6 L1494,1142.6 L1495,1142.7 L1496,1142.7 L1497,1142.7 L1498,1142.7 L1499,1142.7 L1500,1142.7 L1501,1142.7 L1502,1142.7 L1503,1142.7 L1504,1142.7 L1505,1142.7 L1506,1142.7 L1507,1142.8 L1508,1142.8 L1509,1142.8 L1510,1142.8 L1511,1142.8 L1512,1142.8 L1513,1142.8 L1514,1142.8 L1515,1142.8 L1516,1142.8 L1517,1142.8 L1518,1142.8 L1519,1142.9 L1520,1142.9 L1521,1142.9 L1522,1142.9 L1523,1142.9 L1524,1142.9 L1525,1142.9 L1526,1142.9 L1527,1142.9 L1528,1142.9 L1529,1142.9 L1530,1142.9 L1531,1143 L1532,1143 L1533,1143 L1534,1143 L1535,1143 L1536,1143 L1537,1143 L1538,1143 L1539,1143 L1540,1143 L1541,1143 L1542,1143 L1543,1143.1 L1544,1143.1 L1545,1143.1 L1546,1143.1 L1547,1143.1 L1548,1143.1 L1549,1143.1 L1550,1143.1 L1551,1143.1 L1552,1143.1 L1553,1143.1 L1554,1143.1 L1555,1143.2 L1556,1143.2 L1557,1143.2 L1558,1143.2 L1559,1143.2 L1560,1143.2 L1561,1143.2 L1562,1143.2 L1563,1143.2 L1564,1143.2 L1565,1143.2 L1566,1143.3 L1567,1143.3 L1568,1143.3 L1569,1143.3 L1570,1143.3 L1571,1143.3 L1572,1143.3 L1573,1143.3 L1574,1143.3 L1575,1143.3 L1576,1143.3 L1577,1143.3 L1578,1143.4 L1579,1143.4 L1580,1143.4 L1581,1143.4 L1582,1143.4 L1583,1143.4 L1584,1143.4 L1585,1143.4 L1586,1143.4 L1587,1143.4 L1588,1143.4 L1589,1143.4 L1590,1143.5 L1591,1143.5 L1592,1143.5 L1593,1143.5 L1594,1143.5 L1595,1143.5 L1596,1143.5 L1597,1143.5 L1598,1143.5 L1599,1143.5 L1600,1143.5 L1601,1143.5 L1602,1143.6 L1603,1143.6 L1604,1143.6 L1605,1143.6 L1606,1143.6 L1607,1143.6 L1608,1143.6 L1609,1143.6 L1610,1143.6 L1611,1143.6 L1612,1143.6 L1613,1143.6 L1614,1143.7 L1615,1143.7 L1616,1143.7 L1617,1143.7 L1618,1143.7 L1619,1143.7 L1620,1143.7 L1621,1143.7 L1622,1143.7 L1623,1143.7 L1624,1143.7 L1625,1143.7 L1626,1143.8 L1627,1143.8 L1628,1143.8 L1629,1143.8 L1630,1143.8 L1631,1143.8 L1632,1143.8 L1633,1143.8 L1634,1143.8 L1635,1143.8 L1636,1143.8 L1637,1143.8 L1638,1143.9 L1639,1143.9 L1640,1143.9 L1641,1143.9 L1642,1143.9 L1643,1143.9 L1644,1143.9 L1645,1143.9 L1646,1143.9 L1647,1143.9 L1648,1143.9 L1649,1143.9 L1650,1144 L1651,1144 L1652,1144 L1653,1144 L1654,1144 L1655,1144" fill="none" stroke="#5a5aff" stroke-width="1.3" stroke-linejoin="round"/>
<path d="M1330,1138.1 L1331,1138 L1332,1137.9 L1333,1137.7 L1334,1137.6 L1335,1137.4 L1336,1137.2 L1337,1137 L1338,1136.8 L1339,1136.6 L1340,1136.3 L1341,1136.1 L1342,1135.8 L1343,1135.5 L1344,1135.1 L1345,1134.8 L1346,1134.4 L1347,1133.9 L1348,1133.5 L1349,1133 L1350,1132.5 L1351,1131.9 L1352,1131.3 L1353,1130.7 L1354,1130 L1355,1129.3 L1356,1128.6 L1357,1127.8 L1358,1126.9 L1359,1126.1 L1360,1125.1 L1361,1124.2 L1362,1123.2 L1363,1122.1 L1364,1121 L1365,1119.8 L1366,1118.6 L1367,1117.4 L1368,1116 L1369,1114.7 L1370,1113.3 L1371,1111.8 L1372,1110.3 L1373,1108.8 L1374,1107.2 L1375,1105.5 L1376,1103.8 L1377,1102.1 L1378,1100.3 L1379,1098.5 L1380,1096.7 L1381,1094.8 L1382,1092.8 L1383,1090.9 L1384,1088.9 L1385,1086.9 L1386,1084.8 L1387,1082.7 L1388,1080.7 L1389,1078.5 L1390,1076.4 L1391,1074.3 L1392,1072.1 L1393,1069.9 L1394,1067.8 L1395,1065.6 L1396,1063.4 L1397,1061.3 L1398,1059.1 L1399,1057 L1400,1054.8 L1401,1052.7 L1402,1050.6 L1403,1048.5 L1404,1046.4 L1405,1044.4 L1406,1042.4 L1407,1040.4 L1408,1038.4 L1409,1036.5 L1410,1034.6 L1411,1032.8 L1412,1031 L1413,1029.2 L1414,1027.5 L1415,1025.8 L1416,1024.2 L1417,1022.6 L1418,1021.1 L1419,1019.6 L1420,1018.2 L1421,1016.8 L1422,1015.5 L1423,1014.2 L1424,1013 L1425,1011.8 L1426,1010.7 L1427,1009.6 L1428,1008.6 L1429,1007.6 L1430,1006.7 L1431,1005.8 L1432,1005 L1433,1004.2 L1434,1003.5 L1435,1002.8 L1436,1002.1 L1437,1001.5 L1438,1001 L1439,1000.5 L1440,1000 L1441,999.6 L1442,999.2 L1443,998.8 L1444,998.5 L1445,998.2 L1446,998 L1447,997.7 L1448,997.5 L1449,997.4 L1450,997.2 L1451,997.1 L1452,997 L1453,996.9 L1454,996.8 L1455,996.8 L1456,996.7 L1457,996.7 L1458,996.6 L1459,996.6 L1460,996.6 L1461,996.6 L1462,996.6 L1463,996.6 L1464,996.6 L1465,996.7 L1466,996.8 L1467,996.9 L1468,997.1 L1469,997.4 L1470,997.6 L1471,998 L1472,998.4 L1473,998.8 L1474,999.3 L1475,999.8 L1476,1000.4 L1477,1001.1 L1478,1001.8 L1479,1002.6 L1480,1003.4 L1481,1004.3 L1482,1005.2 L1483,1006.2 L1484,1007.3 L1485,1008.4 L1486,1009.5 L1487,1010.7 L1488,1012 L1489,1013.3 L1490,1014.7 L1491,1016.1 L1492,1017.6 L1493,1019.1 L1494,1020.6 L1495,1022.2 L1496,1023.9 L1497,1025.5 L1498,1027.3 L1499,1029 L1500,1030.8 L1501,1032.6 L1502,1034.5 L1503,1036.3 L1504,1038.2 L1505,1040.1 L1506,1042.1 L1507,1044 L1508,1046 L1509,1048 L1510,1050 L1511,1052 L1512,1054 L1513,1056 L1514,1058.1 L1515,1060.1 L1516,1062.1 L1517,1064.1 L1518,1066.1 L1519,1068.1 L1520,1070.1 L1521,1072 L1522,1074 L1523,1075.9 L1524,1077.8 L1525,1079.7 L1526,1081.6 L1527,1083.4 L1528,1085.3 L1529,1087.1 L1530,1088.8 L1531,1090.6 L1532,1092.3 L1533,1094 L1534,1095.6 L1535,1097.2 L1536,1098.8 L1537,1100.3 L1538,1101.8 L1539,1103.3 L1540,1104.7 L1541,1106.1 L1542,1107.5 L1543,1108.8 L1544,1110.1 L1545,1111.3 L1546,1112.5 L1547,1113.7 L1548,1114.8 L1549,1115.9 L1550,1116.9 L1551,1118 L1552,1118.9 L1553,1119.9 L1554,1120.8 L1555,1121.7 L1556,1122.5 L1557,1123.3 L1558,1124.1 L1559,1124.8 L1560,1125.5 L1561,1126.2 L1562,1126.8 L1563,1127.5 L1564,1128 L1565,1128.6 L1566,1129.1 L1567,1129.6 L1568,1130.1 L1569,1130.6 L1570,1131 L1571,1131.4 L1572,1131.8 L1573,1132.2 L1574,1132.5 L1575,1132.8 L1576,1133.2 L1577,1133.4 L1578,1133.7 L1579,1134 L1580,1134.2 L1581,1134.4 L1582,1134.6 L1583,1134.8 L1584,1135 L1585,1135.2 L1586,1135.4 L1587,1135.5 L1588,1135.7 L1589,1135.8 L1590,1135.9 L1591,1136 L1592,1136.1 L1593,1136.2 L1594,1136.3 L1595,1136.4 L1596,1136.5 L1597,1136.5 L1598,1136.6 L1599,1136.7 L1600,1136.7 L1601,1136.8 L1602,1136.8 L1603,1136.8 L1604,1136.9 L1605,1136.9 L1606,1136.9 L1607,1137 L1608,1137 L1609,1137 L1610,1137 L1611,1137 L1612,1137.1 L1613,1137.1 L1614,1137.1 L1615,1137.1 L1616,1137.1 L1617,1137.1 L1618,1137.1 L1619,1137.1 L1620,1137.1 L1621,1137.1 L1622,1137.1 L1623,1137.1 L1624,1137.1 L1625,1137.1 L1626,1137.1 L1627,1137.1 L1628,1137.1 L1629,1137.1 L1630,1137.1 L1631,1137.1 L1632,1137.1 L1633,1137.1 L1634,1137.1 L1635,1137.1 L1636,1137.1 L1637,1137.1 L1638,1137.1 L1639,1137.1 L1640,1137.1 L1641,1137.1 L1642,1137.1 L1643,1137.1 L1644,1137.1 L1645,1137.1 L1646,1137.1 L1647,1137 L1648,1137 L1649,1137 L1650,1137 L1651,1137 L1652,1137 L1653,1137 L1654,1137 L1655,1137" fill="none" stroke="#ff5a5a" stroke-width="1.3" stroke-linejoin="round"/>
<path d="M1467,1141 L1468,1141 L1469,1140.9 L1470,1140.9 L1471,1140.9 L1472,1140.9 L1473,1140.8 L1474,1140.8 L1475,1140.7 L1476,1140.6 L1477,1140.5 L1478,1140.4 L1479,1140.3 L1480,1140.1 L1481,1139.9 L1482,1139.7 L1483,1139.4 L1484,1139.1 L1485,1138.6 L1486,1138.1 L1487,1137.5 L1488,1136.8 L1489,1136 L1490,1135 L1491,1133.9 L1492,1132.6 L1493,1131.1 L1494,1129.4 L1495,1127.5 L1496,1125.4 L1497,1123 L1498,1120.4 L1499,1117.6 L1500,1114.4 L1501,1111.1 L1502,1107.4 L1503,1103.5 L1504,1099.4 L1505,1095 L1506,1090.4 L1507,1085.7 L1508,1080.8 L1509,1075.7 L1510,1070.6 L1511,1065.4 L1512,1060.1 L1513,1054.9 L1514,1049.7 L1515,1044.6 L1516,1039.7 L1517,1034.9 L1518,1030.3 L1519,1025.9 L1520,1021.8 L1521,1018 L1522,1014.4 L1523,1011.2 L1524,1008.3 L1525,1005.8 L1526,1003.6 L1527,1001.7 L1528,1000.2 L1529,999 L1530,998 L1531,997.3 L1532,996.9 L1533,996.7 L1534,996.6 L1535,996.6 L1536,996.9 L1537,997.4 L1538,998.2 L1539,999.1 L1540,1000.3 L1541,1001.7 L1542,1003.3 L1543,1005.2 L1544,1007.2 L1545,1009.4 L1546,1011.8 L1547,1014.3 L1548,1017 L1549,1019.8 L1550,1022.8 L1551,1025.9 L1552,1029 L1553,1032.3 L1554,1035.6 L1555,1039 L1556,1042.5 L1557,1046 L1558,1049.5 L1559,1053 L1560,1056.5 L1561,1060 L1562,1063.5 L1563,1067 L1564,1070.4 L1565,1073.7 L1566,1077 L1567,1080.2 L1568,1083.4 L1569,1086.5 L1570,1089.4 L1571,1092.3 L1572,1095.1 L1573,1097.8 L1574,1100.4 L1575,1102.9 L1576,1105.3 L1577,1107.6 L1578,1109.7 L1579,1111.8 L1580,1113.8 L1581,1115.6 L1582,1117.4 L1583,1119.1 L1584,1120.6 L1585,1122.1 L1586,1123.5 L1587,1124.8 L1588,1126 L1589,1127.1 L1590,1128.1 L1591,1129.1 L1592,1130 L1593,1130.8 L1594,1131.6 L1595,1132.3 L1596,1132.9 L1597,1133.5 L1598,1134 L1599,1134.5 L1600,1135 L1601,1135.4" fill="none" stroke="#ff50ff" stroke-width="1.3" stroke-linejoin="round"/>
<path d="M1508,1138 L1509,1137.8 L1510,1137.6 L1511,1137.3 L1512,1136.9 L1513,1136.5 L1514,1136 L1515,1135.5 L1516,1134.8 L1517,1134.1 L1518,1133.2 L1519,1132.2 L1520,1131.1 L1521,1129.8 L1522,1128.4 L1523,1126.8 L1524,1125 L1525,1123 L1526,1120.8 L1527,1118.4 L1528,1115.8 L1529,1112.9 L1530,1109.8 L1531,1106.5 L1532,1103 L1533,1099.3 L1534,1095.3 L1535,1091.2 L1536,1086.8 L1537,1082.3 L1538,1077.7 L1539,1073 L1540,1068.2 L1541,1063.4 L1542,1058.6 L1543,1053.9 L1544,1049.2 L1545,1044.7 L1546,1040.4 L1547,1036.3 L1548,1032.4 L1549,1028.9 L1550,1025.8 L1551,1023 L1552,1020.6 L1553,1018.8 L1554,1017.3 L1555,1016.4 L1556,1016 L1557,1016.6 L1558,1018 L1559,1019.6 L1560,1021.4 L1561,1023.4 L1562,1025.4 L1563,1027.5 L1564,1029.6 L1565,1031.8 L1566,1034 L1567,1036.2 L1568,1038.5 L1569,1040.7 L1570,1043 L1571,1045.3 L1572,1047.5 L1573,1049.7 L1574,1052 L1575,1054.2 L1576,1056.3 L1577,1058.5 L1578,1060.6 L1579,1062.7 L1580,1064.8 L1581,1066.9 L1582,1068.9 L1583,1070.8 L1584,1072.8 L1585,1074.7 L1586,1076.6 L1587,1078.4 L1588,1080.2 L1589,1081.9 L1590,1083.7 L1591,1085.4 L1592,1087 L1593,1088.6 L1594,1090.2 L1595,1091.7 L1596,1093.2 L1597,1094.7 L1598,1096.1 L1599,1097.5 L1600,1098.9 L1601,1100.2 L1602,1101.5 L1603,1102.7 L1604,1103.9 L1605,1105.1 L1606,1106.3 L1607,1107.4 L1608,1108.5 L1609,1109.5 L1610,1110.5 L1611,1111.5 L1612,1112.5 L1613,1113.4 L1614,1114.3 L1615,1115.2 L1616,1116.1 L1617,1116.9 L1618,1117.7 L1619,1118.5 L1620,1119.2" fill="none" stroke="#444" stroke-width="1.3" stroke-linejoin="round"/>
<text transform="translate(707,201) scale(1,1.12)" font-size="30" text-anchor="middle" fill="#1010e0">5</text>
<text transform="translate(766.5,254) scale(1,1.12)" font-size="30" text-anchor="middle" fill="#ee1010">10</text>
<text transform="translate(895,122) scale(1,1.12)" font-size="30" text-anchor="middle" fill="#ff00ff">50</text>
<text transform="translate(991,130) scale(1,1.12)" font-size="30" text-anchor="middle">100</text>
<text transform="translate(1024,276.5) scale(1,1.12)" font-size="30" text-anchor="middle" fill="#1010e0">5</text>
<text transform="translate(1096,288) scale(1,1.12)" font-size="30" text-anchor="middle" fill="#ee1010">10</text>
<text transform="translate(1252,336) scale(1,1.12)" font-size="30" text-anchor="middle" fill="#ff00ff">50</text>
<text transform="translate(1337,352) scale(1,1.12)" font-size="30" text-anchor="middle">100</text>
<text transform="translate(660,651) scale(1,1.12)" font-size="30" text-anchor="middle" fill="#1010e0">5</text>
<text transform="translate(762,619.5) scale(1,1.12)" font-size="30" text-anchor="middle" fill="#ee1010">10</text>
<text transform="translate(902.5,572) scale(1,1.12)" font-size="30" text-anchor="middle" fill="#ff00ff">50</text>
<text transform="translate(970,515) scale(1,1.12)" font-size="30" text-anchor="middle">100</text>
<text transform="translate(1262,691) scale(1,1.12)" font-size="30" text-anchor="middle" fill="#1010e0">5</text>
<text transform="translate(1351,655) scale(1,1.12)" font-size="30" text-anchor="middle" fill="#ee1010">10</text>
<text transform="translate(1461,677) scale(1,1.12)" font-size="30" text-anchor="middle" fill="#ff00ff">50</text>
<text transform="translate(1528,669) scale(1,1.12)" font-size="30" text-anchor="middle">100</text>
<text transform="translate(838,993) scale(1,1.12)" font-size="30" text-anchor="middle" fill="#1010e0">5</text>
<text transform="translate(904,1037) scale(1,1.12)" font-size="30" text-anchor="middle" fill="#ee1010">10</text>
<text transform="translate(1047.5,1003) scale(1,1.12)" font-size="30" text-anchor="middle" fill="#ff00ff">50</text>
<text transform="translate(1212,875) scale(1,1.12)" font-size="30" text-anchor="middle">100</text>
<text transform="translate(1312,988) scale(1,1.12)" font-size="30" text-anchor="middle" fill="#1010e0">5</text>
<text transform="translate(1459,971.5) scale(1,1.12)" font-size="30" text-anchor="middle" fill="#ee1010">10</text>
<text transform="translate(1537,972.5) scale(1,1.12)" font-size="30" text-anchor="middle" fill="#ff00ff">50</text>
<text transform="translate(1602,1021) scale(1,1.12)" font-size="30" text-anchor="middle">100</text>
<text x="506" y="260" font-size="42"><tspan font-style="italic">f</tspan>=100%</text>
<text x="1419" y="344" font-size="42"><tspan font-style="italic">f</tspan>=15%</text>
<text x="490" y="687" font-size="42"><tspan font-style="italic">f</tspan>=85%</text>
<text x="1592" y="645.5" font-size="42"><tspan font-style="italic">f</tspan>=5%</text>
<text x="641" y="1044" font-size="42"><tspan font-style="italic">f</tspan>=30%</text>
<text x="1644" y="954.5" font-size="42"><tspan font-style="italic">f</tspan>=3%</text>
<text x="286" y="611" font-size="36.5" >10mAu</text>
<line x1="413" y1="545" x2="413" y2="646" stroke="#000" stroke-width="2.4" />
<polygon points="413,527 406.8,548 419.2,548"/>
<polygon points="413,664 406.8,643 419.2,643"/>
<text x="238" y="895" font-size="42" >Ionic Strength</text>
<line x1="237.6" y1="935.6" x2="341" y2="935.6" stroke="#8484ff" stroke-width="2.2" />
<text x="366" y="950.4" font-size="44.5" >5 mM</text>
<line x1="237.6" y1="990.3" x2="341" y2="990.3" stroke="#ff7272" stroke-width="2.2" />
<text x="355" y="1005.3" font-size="44.5" >10 mM</text>
<line x1="237.6" y1="1045" x2="341" y2="1045" stroke="#ff70ff" stroke-width="2.2" />
<text x="355" y="1060.2" font-size="44.5" >50 mM</text>
<line x1="237.6" y1="1099.7" x2="341" y2="1099.7" stroke="#8a8a8a" stroke-width="2.2" />
<text x="355" y="1115.1" font-size="44.5" >100 mM</text>
<line x1="235.2" y1="1410" x2="1769.7" y2="1410" stroke="#000" stroke-width="3.5" />
<line x1="215" y1="1410" x2="235.2" y2="1410" stroke="#000" stroke-width="3.5" />
<line x1="235.2" y1="1408.3" x2="235.2" y2="2651.7" stroke="#000" stroke-width="3.5" />
<line x1="1768" y1="1408.3" x2="1768" y2="2651.7" stroke="#000" stroke-width="3.5" />
<line x1="214" y1="2650" x2="1769.7" y2="2650" stroke="#000" stroke-width="3.5" />
<line x1="213.7" y1="2650.2" x2="235.2" y2="2650.2" stroke="#000" stroke-width="3.5" />
<text x="200" y="2663.2" font-size="42" text-anchor="end" >0</text>
<line x1="224.5" y1="2581.3" x2="235.2" y2="2581.3" stroke="#000" stroke-width="3.5" />
<line x1="213.7" y1="2512.4" x2="235.2" y2="2512.4" stroke="#000" stroke-width="3.5" />
<text x="200" y="2525.4" font-size="42" text-anchor="end" >1</text>
<line x1="224.5" y1="2443.5" x2="235.2" y2="2443.5" stroke="#000" stroke-width="3.5" />
<line x1="213.7" y1="2374.6" x2="235.2" y2="2374.6" stroke="#000" stroke-width="3.5" />
<text x="200" y="2387.6" font-size="42" text-anchor="end" >2</text>
<line x1="224.5" y1="2305.7" x2="235.2" y2="2305.7" stroke="#000" stroke-width="3.5" />
<line x1="213.7" y1="2236.8" x2="235.2" y2="2236.8" stroke="#000" stroke-width="3.5" />
<text x="200" y="2249.8" font-size="42" text-anchor="end" >3</text>
<line x1="224.5" y1="2167.9" x2="235.2" y2="2167.9" stroke="#000" stroke-width="3.5" />
<line x1="213.7" y1="2099" x2="235.2" y2="2099" stroke="#000" stroke-width="3.5" />
<text x="200" y="2112" font-size="42" text-anchor="end" >4</text>
<line x1="224.5" y1="2030.1" x2="235.2" y2="2030.1" stroke="#000" stroke-width="3.5" />
<line x1="213.7" y1="1961.2" x2="235.2" y2="1961.2" stroke="#000" stroke-width="3.5" />
<text x="200" y="1974.2" font-size="42" text-anchor="end" >5</text>
<line x1="224.5" y1="1892.3" x2="235.2" y2="1892.3" stroke="#000" stroke-width="3.5" />
<line x1="213.7" y1="1823.4" x2="235.2" y2="1823.4" stroke="#000" stroke-width="3.5" />
<text x="200" y="1836.4" font-size="42" text-anchor="end" >6</text>
<line x1="224.5" y1="1754.5" x2="235.2" y2="1754.5" stroke="#000" stroke-width="3.5" />
<line x1="213.7" y1="1685.6" x2="235.2" y2="1685.6" stroke="#000" stroke-width="3.5" />
<text x="200" y="1698.6" font-size="42" text-anchor="end" >7</text>
<line x1="224.5" y1="1616.7" x2="235.2" y2="1616.7" stroke="#000" stroke-width="3.5" />
<line x1="213.7" y1="1547.8" x2="235.2" y2="1547.8" stroke="#000" stroke-width="3.5" />
<text x="200" y="1560.8" font-size="42" text-anchor="end" >8</text>
<line x1="224.5" y1="1478.9" x2="235.2" y2="1478.9" stroke="#000" stroke-width="3.5" />
<line x1="213.7" y1="1410" x2="235.2" y2="1410" stroke="#000" stroke-width="3.5" />
<text x="200" y="1423" font-size="42" text-anchor="end" >9</text>
<line x1="235.1" y1="2650" x2="235.1" y2="2662.5" stroke="#000" stroke-width="3.5" />
<line x1="347.9" y1="2650" x2="347.9" y2="2662.5" stroke="#000" stroke-width="3.5" />
<line x1="435.3" y1="2650" x2="435.3" y2="2662.5" stroke="#000" stroke-width="3.5" />
<line x1="506.8" y1="2650" x2="506.8" y2="2662.5" stroke="#000" stroke-width="3.5" />
<line x1="567.2" y1="2650" x2="567.2" y2="2662.5" stroke="#000" stroke-width="3.5" />
<line x1="619.5" y1="2650" x2="619.5" y2="2662.5" stroke="#000" stroke-width="3.5" />
<line x1="665.7" y1="2650" x2="665.7" y2="2662.5" stroke="#000" stroke-width="3.5" />
<line x1="978.7" y1="2650" x2="978.7" y2="2662.5" stroke="#000" stroke-width="3.5" />
<line x1="1137.6" y1="2650" x2="1137.6" y2="2662.5" stroke="#000" stroke-width="3.5" />
<line x1="1250.4" y1="2650" x2="1250.4" y2="2662.5" stroke="#000" stroke-width="3.5" />
<line x1="1337.8" y1="2650" x2="1337.8" y2="2662.5" stroke="#000" stroke-width="3.5" />
<line x1="1409.3" y1="2650" x2="1409.3" y2="2662.5" stroke="#000" stroke-width="3.5" />
<line x1="1469.7" y1="2650" x2="1469.7" y2="2662.5" stroke="#000" stroke-width="3.5" />
<line x1="1522" y1="2650" x2="1522" y2="2662.5" stroke="#000" stroke-width="3.5" />
<line x1="1568.2" y1="2650" x2="1568.2" y2="2662.5" stroke="#000" stroke-width="3.5" />
<line x1="707" y1="2650" x2="707" y2="2674" stroke="#000" stroke-width="3.5" />
<line x1="1609.5" y1="2650" x2="1609.5" y2="2674" stroke="#000" stroke-width="3.5" />
<text x="708" y="2723.6" font-size="42" text-anchor="middle" >10</text>
<text x="1609.5" y="2723.6" font-size="42" text-anchor="middle" >100</text>
<text x="781" y="2773" font-size="52" >Ionic strength (M)</text>
<text x="270" y="1496" font-size="52" >B</text>
<text transform="translate(106.7,2199) rotate(-90)" font-size="57"><tspan font-style="italic">μ</tspan><tspan font-size="33" font-style="italic" dy="18">ep,corr</tspan><tspan dy="-18"> / 10</tspan><tspan font-size="30" dy="-28">-8</tspan><tspan dy="28"> m</tspan><tspan font-size="30" dy="-28">2</tspan><tspan dy="28">V</tspan><tspan font-size="30" dy="-28">-1</tspan><tspan dy="28">s</tspan><tspan font-size="30" dy="-28">-1</tspan></text>
<line x1="69.5" y1="2066.7" x2="69.5" y2="2203.8" stroke="#000" stroke-width="2.5" />
<line x1="435.3" y1="1449.7" x2="1609.5" y2="2088" stroke="#777" stroke-width="1.15" />
<line x1="435.3" y1="1449.7" x2="1609.5" y2="2088" stroke="#111" stroke-width="1.15" stroke-dasharray="5,3"/>
<line x1="435.3" y1="2016" x2="1609.5" y2="2213" stroke="#6a6a6a" stroke-width="1.15" />
<line x1="435.3" y1="2016" x2="1609.5" y2="2213" stroke="#111" stroke-width="1.15" stroke-dasharray="10,6"/>
<line x1="435.3" y1="2014" x2="1609.5" y2="2237" stroke="#6a6a6a" stroke-width="1.15" />
<line x1="435.3" y1="2014" x2="1609.5" y2="2237" stroke="#111" stroke-width="1.15" stroke-dasharray="10,6"/>
<line x1="435.3" y1="2048" x2="1609.5" y2="2261" stroke="#6a6a6a" stroke-width="1.15" />
<line x1="435.3" y1="2048" x2="1609.5" y2="2261" stroke="#111" stroke-width="1.15" stroke-dasharray="10,6"/>
<line x1="435.3" y1="2120" x2="1609.5" y2="2343" stroke="#6a6a6a" stroke-width="1.15" />
<line x1="435.3" y1="2120" x2="1609.5" y2="2343" stroke="#111" stroke-width="1.15" stroke-dasharray="10,6"/>
<line x1="435.3" y1="2239" x2="1609.5" y2="2435" stroke="#6a6a6a" stroke-width="1.15" />
<line x1="435.3" y1="2239" x2="1609.5" y2="2435" stroke="#111" stroke-width="1.15" stroke-dasharray="10,6"/>
<line x1="435.3" y1="2422" x2="1609.5" y2="2556" stroke="#6a6a6a" stroke-width="1.15" />
<line x1="435.3" y1="2422" x2="1609.5" y2="2556" stroke="#111" stroke-width="1.15" stroke-dasharray="10,6"/>
<line x1="435.3" y1="2499.5" x2="1609.5" y2="2603.4" stroke="#6a6a6a" stroke-width="1.15" />
<line x1="435.3" y1="2499.5" x2="1609.5" y2="2603.4" stroke="#111" stroke-width="1.15" stroke-dasharray="10,6"/>
<line x1="800.2" y1="2190.7" x2="800.2" y2="2238" stroke="#000" stroke-width="2.2" />
<line x1="795" y1="2239.2" x2="1048" y2="2239.2" stroke="#000" stroke-width="2.2" />
<text x="758" y="2232" font-size="45" font-weight="bold" font-style="italic" >P</text>
<rect x="425.3" y="1464.5" width="20" height="20"/>
<rect x="697" y="1544.2" width="20" height="20"/>
<rect x="1056.1" y="1795.3" width="20" height="20"/>
<rect x="1327.8" y="1931.8" width="20" height="20"/>
<rect x="1486.7" y="2008.6" width="20" height="20"/>
<rect x="1599.5" y="2084.7" width="20" height="20"/>
<polygon points="435.3,1976 438.7,1984.9 448.2,1985.3 440.7,1991.3 443.3,2000.4 435.3,1995.2 427.4,2000.4 429.9,1991.3 422.5,1985.3 432,1984.9"/>
<polygon points="707,2082 710.3,2090.9 719.8,2091.3 712.4,2097.3 714.9,2106.4 707,2101.2 699.1,2106.4 701.6,2097.3 694.2,2091.3 703.7,2090.9"/>
<polygon points="1066.1,2125 1069.5,2133.9 1079,2134.3 1071.5,2140.3 1074.1,2149.4 1066.1,2144.2 1058.2,2149.4 1060.7,2140.3 1053.3,2134.3 1062.8,2133.9"/>
<polygon points="1337.8,2157 1341.2,2165.9 1350.7,2166.3 1343.2,2172.3 1345.8,2181.4 1337.8,2176.2 1329.9,2181.4 1332.4,2172.3 1325,2166.3 1334.5,2165.9"/>
<polygon points="1496.7,2188 1500.1,2196.9 1509.6,2197.3 1502.1,2203.3 1504.7,2212.4 1496.7,2207.2 1488.8,2212.4 1491.4,2203.3 1483.9,2197.3 1493.4,2196.9"/>
<polygon points="1609.5,2226.8 1612.8,2235.7 1622.3,2236.1 1614.9,2242.1 1617.4,2251.2 1609.5,2246 1601.6,2251.2 1604.1,2242.1 1596.7,2236.1 1606.2,2235.7"/>
<polygon points="435.3,1988.5 449.3,2004 435.3,2019.5 421.3,2004"/>
<polygon points="707,2042.5 721,2058 707,2073.5 693,2058"/>
<polygon points="1066.1,2107.5 1080.1,2123 1066.1,2138.5 1052.1,2123"/>
<polygon points="1337.8,2137.5 1351.8,2153 1337.8,2168.5 1323.8,2153"/>
<polygon points="1496.7,2150 1510.7,2165.5 1496.7,2181 1482.7,2165.5"/>
<polygon points="1609.5,2181.8 1623.5,2197.3 1609.5,2212.8 1595.5,2197.3"/>
<polygon points="452.6,1992 426.6,1976 426.6,2008"/>
<polygon points="721.3,2068 695.3,2052 695.3,2084"/>
<polygon points="1080.4,2130 1054.4,2114 1054.4,2146"/>
<polygon points="1352.1,2165 1326.1,2149 1326.1,2181"/>
<polygon points="1511,2201.6 1485,2185.6 1485,2217.6"/>
<polygon points="1623.8,2211.5 1597.8,2195.5 1597.8,2227.5"/>
<ellipse cx="435.3" cy="2124.2" rx="11" ry="11.9"/>
<ellipse cx="707" cy="2159" rx="11" ry="11.9"/>
<ellipse cx="1066.1" cy="2239.2" rx="11" ry="11.9"/>
<ellipse cx="1337.8" cy="2272.8" rx="11" ry="11.9"/>
<ellipse cx="1496.7" cy="2296.2" rx="11" ry="11.9"/>
<ellipse cx="1609.5" cy="2332.8" rx="11" ry="11.9"/>
<rect x="425.3" y="2197.4" width="20" height="20"/>
<rect x="697" y="2262.9" width="20" height="20"/>
<rect x="1056.1" y="2338" width="20" height="20"/>
<rect x="1327.8" y="2382.9" width="20" height="20"/>
<rect x="1486.7" y="2407" width="20" height="20"/>
<rect x="1599.5" y="2426.4" width="20" height="20"/>
<polygon points="435.3,2404.6 421.8,2378.6 448.8,2378.6"/>
<polygon points="707,2464.6 693.5,2438.6 720.5,2438.6"/>
<polygon points="1066.1,2523.2 1052.6,2497.2 1079.6,2497.2"/>
<polygon points="1337.8,2545.9 1324.3,2519.9 1351.3,2519.9"/>
<polygon points="1496.7,2562.5 1483.2,2536.5 1510.2,2536.5"/>
<polygon points="1609.5,2572.8 1596,2546.8 1623,2546.8"/>
<polygon points="419.7,2497.8 442.7,2482.8 442.7,2512.8"/>
<polygon points="691.4,2520.5 714.4,2505.5 714.4,2535.5"/>
<polygon points="1050.5,2555.8 1073.5,2540.8 1073.5,2570.8"/>
<polygon points="1322.2,2576.5 1345.2,2561.5 1345.2,2591.5"/>
<polygon points="1481.1,2579.3 1504.1,2564.3 1504.1,2594.3"/>
<polygon points="1593.8,2595 1616.8,2580 1616.8,2610"/>
<polygon points="1474.4,1461.1 1498.6,1445.3 1498.6,1476.8"/>
<text x="1556" y="1475.7" font-size="42"><tspan font-style="italic">f</tspan>=3%</text>
<polygon points="1490,1532.2 1475.8,1504.9 1504.2,1504.9"/>
<text x="1556" y="1531.8" font-size="42"><tspan font-style="italic">f</tspan>=5%</text>
<rect x="1479.5" y="1562.8" width="21" height="21"/>
<text x="1556" y="1587.9" font-size="42"><tspan font-style="italic">f</tspan>=15%</text>
<ellipse cx="1490" cy="1629.4" rx="11.6" ry="12.5"/>
<text x="1556" y="1644" font-size="42"><tspan font-style="italic">f</tspan>=30%</text>
<polygon points="1490,1672.9 1493.5,1682.3 1503.5,1682.7 1495.7,1688.9 1498.3,1698.5 1490,1693 1481.7,1698.5 1484.3,1688.9 1476.5,1682.7 1486.5,1682.3"/>
<text x="1556" y="1700.1" font-size="42"><tspan font-style="italic">f</tspan>=55%</text>
<polygon points="1508.7,1741.6 1481.4,1724.8 1481.4,1758.4"/>
<text x="1556" y="1756.2" font-size="42"><tspan font-style="italic">f</tspan>=85%</text>
<polygon points="1490,1781.4 1504.7,1797.7 1490,1814 1475.3,1797.7"/>
<text x="1556" y="1812.3" font-size="42"><tspan font-style="italic">f</tspan>=100%</text>
<rect x="1479.5" y="1843.3" width="21" height="21"/>
<text x="1556" y="1868.4" font-size="42" >EOF</text>
<line x1="233.5" y1="2805" x2="1776.7" y2="2805" stroke="#000" stroke-width="3" />
<line x1="222" y1="2805" x2="233.5" y2="2805" stroke="#000" stroke-width="3" />
<line x1="233.5" y1="2803.5" x2="233.5" y2="3999.2" stroke="#000" stroke-width="3.5" />
<line x1="1775" y1="2803.5" x2="1775" y2="4009.5" stroke="#000" stroke-width="3.5" />
<line x1="231.8" y1="3997.5" x2="1776.7" y2="3997.5" stroke="#000" stroke-width="3.5" />
<line x1="212" y1="2944.6" x2="233.5" y2="2944.6" stroke="#000" stroke-width="3.5" />
<text x="201" y="2958.1" font-size="41" text-anchor="end" >1.0</text>
<line x1="212" y1="3225.3" x2="233.5" y2="3225.3" stroke="#000" stroke-width="3.5" />
<text x="201" y="3238.8" font-size="41" text-anchor="end" >0.8</text>
<line x1="212" y1="3506" x2="233.5" y2="3506" stroke="#000" stroke-width="3.5" />
<text x="201" y="3519.5" font-size="41" text-anchor="end" >0.6</text>
<line x1="212" y1="3786.7" x2="233.5" y2="3786.7" stroke="#000" stroke-width="3.5" />
<text x="201" y="3800.2" font-size="41" text-anchor="end" >0.4</text>
<line x1="222.5" y1="3927" x2="233.5" y2="3927" stroke="#000" stroke-width="3.5" />
<line x1="222.5" y1="3646.3" x2="233.5" y2="3646.3" stroke="#000" stroke-width="3.5" />
<line x1="222.5" y1="3365.7" x2="233.5" y2="3365.7" stroke="#000" stroke-width="3.5" />
<line x1="222.5" y1="3084.9" x2="233.5" y2="3084.9" stroke="#000" stroke-width="3.5" />
<line x1="233.5" y1="3997.5" x2="233.5" y2="4009.5" stroke="#000" stroke-width="3.5" />
<line x1="339.1" y1="3997.5" x2="339.1" y2="4009.5" stroke="#000" stroke-width="3.5" />
<line x1="421" y1="3997.5" x2="421" y2="4009.5" stroke="#000" stroke-width="3.5" />
<line x1="488" y1="3997.5" x2="488" y2="4009.5" stroke="#000" stroke-width="3.5" />
<line x1="544.6" y1="3997.5" x2="544.6" y2="4009.5" stroke="#000" stroke-width="3.5" />
<line x1="593.7" y1="3997.5" x2="593.7" y2="4009.5" stroke="#000" stroke-width="3.5" />
<line x1="636.9" y1="3997.5" x2="636.9" y2="4009.5" stroke="#000" stroke-width="3.5" />
<line x1="930.2" y1="3997.5" x2="930.2" y2="4009.5" stroke="#000" stroke-width="3.5" />
<line x1="1079.1" y1="3997.5" x2="1079.1" y2="4009.5" stroke="#000" stroke-width="3.5" />
<line x1="1184.7" y1="3997.5" x2="1184.7" y2="4009.5" stroke="#000" stroke-width="3.5" />
<line x1="1266.6" y1="3997.5" x2="1266.6" y2="4009.5" stroke="#000" stroke-width="3.5" />
<line x1="1333.6" y1="3997.5" x2="1333.6" y2="4009.5" stroke="#000" stroke-width="3.5" />
<line x1="1390.2" y1="3997.5" x2="1390.2" y2="4009.5" stroke="#000" stroke-width="3.5" />
<line x1="1439.3" y1="3997.5" x2="1439.3" y2="4009.5" stroke="#000" stroke-width="3.5" />
<line x1="1482.5" y1="3997.5" x2="1482.5" y2="4009.5" stroke="#000" stroke-width="3.5" />
<line x1="1775.8" y1="3997.5" x2="1775.8" y2="4009.5" stroke="#000" stroke-width="3.5" />
<line x1="675.6" y1="3997.5" x2="675.6" y2="4020.5" stroke="#000" stroke-width="3.5" />
<line x1="1521.2" y1="3997.5" x2="1521.2" y2="4020.5" stroke="#000" stroke-width="3.5" />
<text x="677" y="4070.5" font-size="41" text-anchor="middle" >10</text>
<text x="1522.5" y="4072" font-size="41" text-anchor="middle" >100</text>
<text x="790.7" y="4116" font-size="50" >Ionic strength (mM)</text>
<text x="290" y="2894" font-size="52" font-weight="bold" >C</text>
<line x1="421.2" y1="2966" x2="1521.2" y2="3399.7" stroke="#7a7a7a" stroke-width="1.15" />
<line x1="421.2" y1="2966" x2="1521.2" y2="3399.7" stroke="#222" stroke-width="1.15" stroke-dasharray="2,5"/>
<line x1="421.2" y1="2993" x2="1521.2" y2="3456.7" stroke="#7a7a7a" stroke-width="1.15" />
<line x1="421.2" y1="2993" x2="1521.2" y2="3456.7" stroke="#222" stroke-width="1.15" stroke-dasharray="2,5"/>
<line x1="421.2" y1="2913" x2="1521.2" y2="3672.5" stroke="#7a7a7a" stroke-width="1.15" />
<line x1="421.2" y1="2913" x2="1521.2" y2="3672.5" stroke="#222" stroke-width="1.15" stroke-dasharray="2,5"/>
<line x1="421.2" y1="2969" x2="1521.2" y2="3682.7" stroke="#7a7a7a" stroke-width="1.15" />
<line x1="421.2" y1="2969" x2="1521.2" y2="3682.7" stroke="#222" stroke-width="1.15" stroke-dasharray="2,5"/>
<line x1="421.2" y1="2938" x2="1521.2" y2="3768" stroke="#7a7a7a" stroke-width="1.15" />
<line x1="421.2" y1="2938" x2="1521.2" y2="3768" stroke="#222" stroke-width="1.15" stroke-dasharray="2,5"/>
<line x1="421.2" y1="2973" x2="1521.2" y2="3920" stroke="#7a7a7a" stroke-width="1.15" />
<line x1="421.2" y1="2973" x2="1521.2" y2="3920" stroke="#222" stroke-width="1.15" stroke-dasharray="5,6"/>
<line x1="699.3" y1="3209" x2="699.3" y2="3282" stroke="#000" stroke-width="2.2" />
<line x1="698.2" y1="3281.6" x2="786" y2="3281.6" stroke="#000" stroke-width="2.2" />
<text x="658" y="3257.5" font-size="42" font-weight="bold" >S</text>
<polygon points="421,2932.8 424.4,2941.7 433.9,2942.1 426.4,2948.1 429,2957.2 421,2952 413.1,2957.2 415.7,2948.1 408.2,2942.1 417.7,2941.7"/>
<polygon points="675.6,3027 678.9,3035.9 688.4,3036.3 681,3042.3 683.5,3051.4 675.6,3046.2 667.7,3051.4 670.2,3042.3 662.8,3036.3 672.3,3035.9"/>
<polygon points="1184.7,3275.2 1188,3284.1 1197.5,3284.5 1190.1,3290.5 1192.6,3299.6 1184.7,3294.4 1176.8,3299.6 1179.3,3290.5 1171.9,3284.5 1181.4,3284.1"/>
<polygon points="1333.6,3308.4 1336.9,3317.3 1346.4,3317.7 1339,3323.7 1341.5,3332.8 1333.6,3327.6 1325.7,3332.8 1328.2,3323.7 1320.8,3317.7 1330.3,3317.3"/>
<polygon points="1415.6,3395.9 1418.9,3404.8 1428.4,3405.2 1420.9,3411.2 1423.5,3420.3 1415.6,3415.1 1407.6,3420.3 1410.2,3411.2 1402.7,3405.2 1412.2,3404.8"/>
<polygon points="421,2929.3 435,2944.8 421,2960.3 407,2944.8"/>
<polygon points="675.6,3045.5 689.6,3061 675.6,3076.5 661.6,3061"/>
<polygon points="930.2,3192 944.2,3207.5 930.2,3223 916.2,3207.5"/>
<polygon points="1184.7,3251.8 1198.7,3267.3 1184.7,3282.8 1170.7,3267.3"/>
<polygon points="1333.6,3278.3 1347.6,3293.8 1333.6,3309.3 1319.6,3293.8"/>
<polygon points="1415.6,3347.6 1429.6,3363.1 1415.6,3378.6 1401.6,3363.1"/>
<rect x="411" y="2934.8" width="20" height="20"/>
<rect x="665.6" y="3097" width="20" height="20"/>
<rect x="1002.1" y="3306" width="20" height="20"/>
<rect x="1256.6" y="3460.8" width="20" height="20"/>
<rect x="1405.6" y="3542.4" width="20" height="20"/>
<rect x="1511.2" y="3606.7" width="20" height="20"/>
<polygon points="421,2931.1 407.5,2956.1 434.5,2956.1"/>
<polygon points="675.6,3022.2 662.1,3047.2 689.1,3047.2"/>
<polygon points="1012.1,3324.2 998.6,3349.2 1025.6,3349.2"/>
<polygon points="1266.6,3487.2 1253.1,3512.2 1280.1,3512.2"/>
<polygon points="1415.6,3577.2 1402.1,3602.2 1429.1,3602.2"/>
<polygon points="1521.2,3668.9 1507.7,3693.9 1534.7,3693.9"/>
<polygon points="421,2959.1 407.5,2933.1 434.5,2933.1"/>
<polygon points="675.6,3121 662.1,3095 689.1,3095"/>
<polygon points="1012.1,3397.9 998.6,3371.9 1025.6,3371.9"/>
<polygon points="1266.6,3628 1253.1,3602 1280.1,3602"/>
<polygon points="1415.6,3713.3 1402.1,3687.3 1429.1,3687.3"/>
<polygon points="1521.2,3760.3 1507.7,3734.3 1534.7,3734.3"/>
<polygon points="408.4,2944.8 431.4,2929.8 431.4,2959.8"/>
<polygon points="663,3163.7 686,3148.7 686,3178.7"/>
<polygon points="917.5,3484 940.5,3469 940.5,3499"/>
<polygon points="1172.1,3664.2 1195.1,3649.2 1195.1,3679.2"/>
<polygon points="1321,3686.3 1344,3671.3 1344,3701.3"/>
<polygon points="1402.9,3829.2 1425.9,3814.2 1425.9,3844.2"/>
<circle cx="421.6" cy="2944.9" r="13.5"/>
<polygon points="419.2,3503.8 442.2,3488.8 442.2,3518.8"/>
<text transform="translate(508,3518.4) scale(1,1.1)" font-size="41"><tspan font-style="italic">f</tspan> = 3%</text>
<polygon points="431.8,3573.3 418.3,3547.3 445.3,3547.3"/>
<text transform="translate(508,3573.6) scale(1,1.1)" font-size="41"><tspan font-style="italic">f</tspan> = 5%</text>
<rect x="421.8" y="3604.2" width="20" height="20"/>
<text transform="translate(508,3628.8) scale(1,1.1)" font-size="41"><tspan font-style="italic">f</tspan> = 15%</text>
<polygon points="431.8,3657.4 435.1,3666.3 444.6,3666.7 437.2,3672.7 439.7,3681.8 431.8,3676.6 423.9,3681.8 426.4,3672.7 419,3666.7 428.5,3666.3"/>
<text transform="translate(508,3684) scale(1,1.1)" font-size="41"><tspan font-style="italic">f</tspan> = 55%</text>
<polygon points="431.8,3709.1 445.8,3724.6 431.8,3740.1 417.8,3724.6"/>
<text transform="translate(508,3739.2) scale(1,1.1)" font-size="41"><tspan font-style="italic">f</tspan> = 100%</text>
<polygon points="432,3763.1 418.5,3788.1 445.5,3788.1"/>
<text transform="translate(497,3794.4) scale(1,1.1)" font-size="41">EOF</text>
<text transform="translate(106.5,3472) rotate(-90)" font-size="55"><tspan font-style="italic">μ</tspan><tspan font-size="32" font-style="italic" dy="18">ep,corr</tspan></text>
<text transform="translate(123,3347) rotate(-90) scale(1.3,1)" font-size="78" stroke="#fff" stroke-width="3">/</text>
<text transform="translate(106.5,3309) rotate(-90)" font-size="55"><tspan font-style="italic">μ</tspan><tspan font-size="32" font-style="italic" dy="18">ep,corr</tspan></text>
<text transform="translate(90,3219) rotate(-90)" font-size="29">5 mM</text>
<line x1="62.4" y1="3304" x2="62.4" y2="3430.7" stroke="#000" stroke-width="2.5" />
<line x1="62.4" y1="3135.4" x2="62.4" y2="3266.8" stroke="#000" stroke-width="2.5" />
</svg>
</body></html>
